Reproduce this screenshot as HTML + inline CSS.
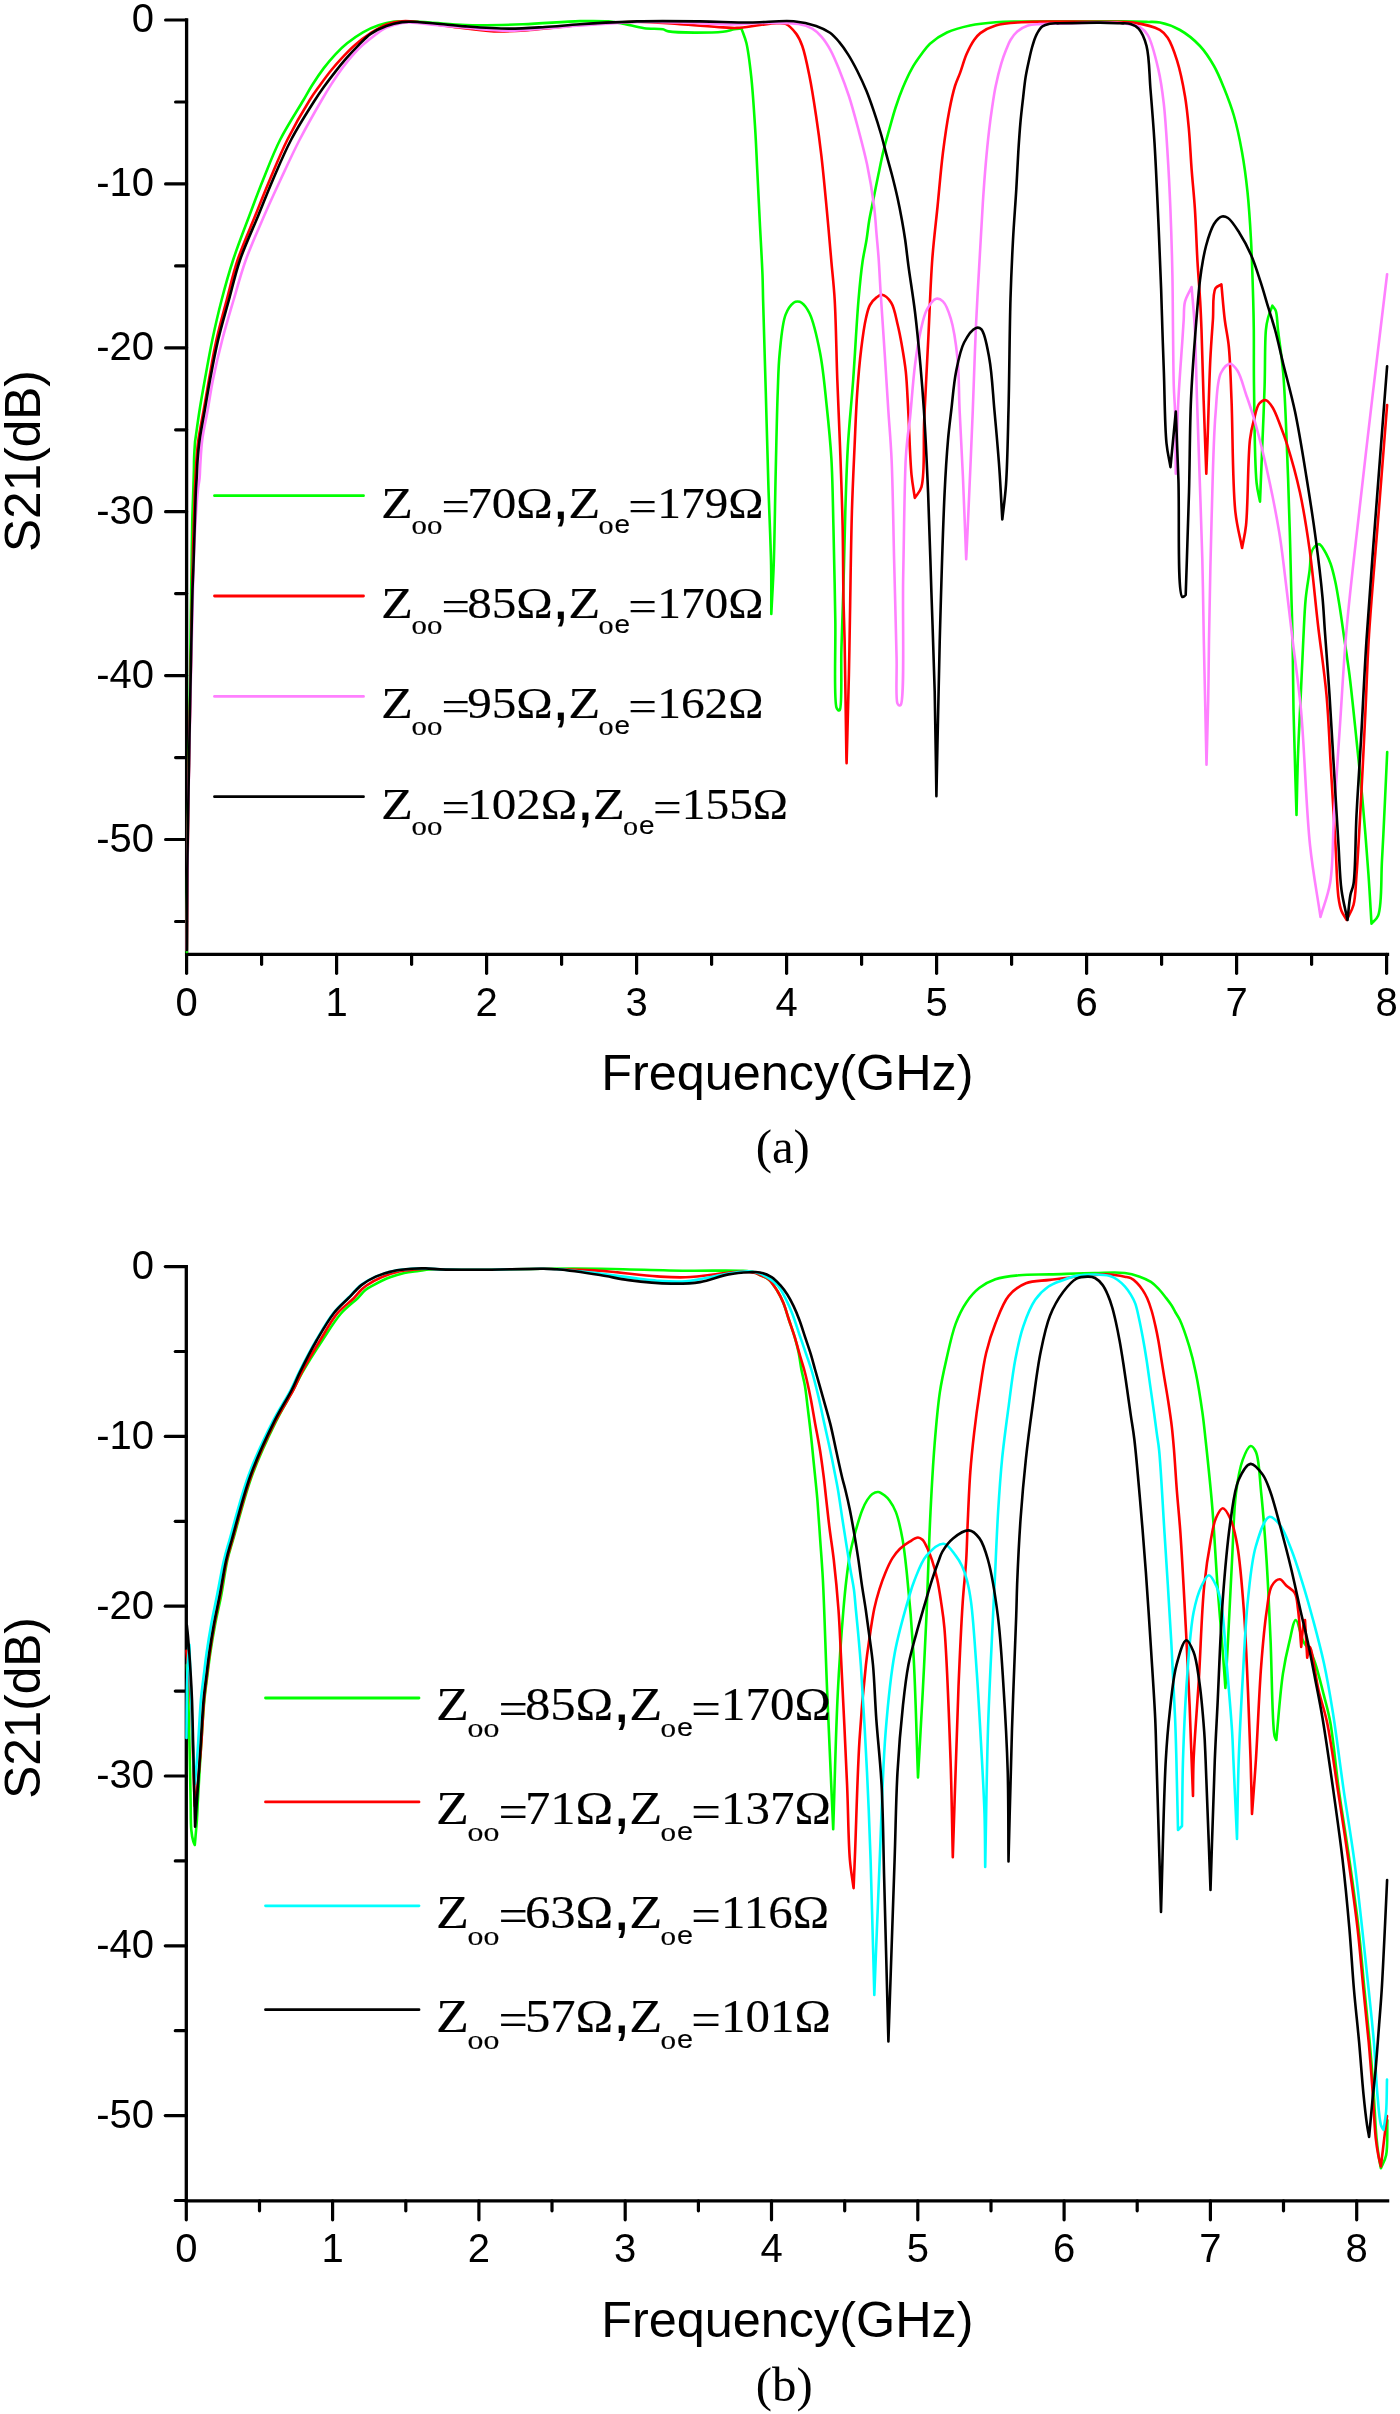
<!DOCTYPE html>
<html><head><meta charset="utf-8"><title>S21 vs Frequency</title>
<style>html,body{margin:0;padding:0;background:#fff;width:1400px;height:2414px;overflow:hidden;}svg{display:block;will-change:transform;}</style></head><body>
<svg xmlns="http://www.w3.org/2000/svg" width="1400" height="2414" viewBox="0 0 1400 2414">
<rect width="1400" height="2414" fill="#fff"/>
<path d="M186.6,20.0 L186.6,954.3 L1387.5,954.3" fill="none" stroke="#000" stroke-width="3.3" stroke-linejoin="miter" stroke-linecap="square"/>
<line x1="165.6" y1="20.0" x2="186.6" y2="20.0" stroke="#000" stroke-width="3.2" stroke-linecap="round"/>
<text x="154.1" y="32.3" text-anchor="end" font-family='"Liberation Sans", sans-serif' font-size="40">0</text>
<line x1="175.6" y1="102.0" x2="186.6" y2="102.0" stroke="#000" stroke-width="3.2" stroke-linecap="round"/>
<line x1="165.6" y1="183.9" x2="186.6" y2="183.9" stroke="#000" stroke-width="3.2" stroke-linecap="round"/>
<text x="154.1" y="196.2" text-anchor="end" font-family='"Liberation Sans", sans-serif' font-size="40">-10</text>
<line x1="175.6" y1="265.9" x2="186.6" y2="265.9" stroke="#000" stroke-width="3.2" stroke-linecap="round"/>
<line x1="165.6" y1="347.8" x2="186.6" y2="347.8" stroke="#000" stroke-width="3.2" stroke-linecap="round"/>
<text x="154.1" y="360.1" text-anchor="end" font-family='"Liberation Sans", sans-serif' font-size="40">-20</text>
<line x1="175.6" y1="429.8" x2="186.6" y2="429.8" stroke="#000" stroke-width="3.2" stroke-linecap="round"/>
<line x1="165.6" y1="511.7" x2="186.6" y2="511.7" stroke="#000" stroke-width="3.2" stroke-linecap="round"/>
<text x="154.1" y="524.0" text-anchor="end" font-family='"Liberation Sans", sans-serif' font-size="40">-30</text>
<line x1="175.6" y1="593.6" x2="186.6" y2="593.6" stroke="#000" stroke-width="3.2" stroke-linecap="round"/>
<line x1="165.6" y1="675.6" x2="186.6" y2="675.6" stroke="#000" stroke-width="3.2" stroke-linecap="round"/>
<text x="154.1" y="687.9" text-anchor="end" font-family='"Liberation Sans", sans-serif' font-size="40">-40</text>
<line x1="175.6" y1="757.6" x2="186.6" y2="757.6" stroke="#000" stroke-width="3.2" stroke-linecap="round"/>
<line x1="165.6" y1="839.5" x2="186.6" y2="839.5" stroke="#000" stroke-width="3.2" stroke-linecap="round"/>
<text x="154.1" y="851.8" text-anchor="end" font-family='"Liberation Sans", sans-serif' font-size="40">-50</text>
<line x1="175.6" y1="921.5" x2="186.6" y2="921.5" stroke="#000" stroke-width="3.2" stroke-linecap="round"/>
<line x1="186.6" y1="954.3" x2="186.6" y2="973.3" stroke="#000" stroke-width="3.2" stroke-linecap="round"/>
<text x="186.6" y="1015.8" text-anchor="middle" font-family='"Liberation Sans", sans-serif' font-size="40">0</text>
<line x1="261.6" y1="954.3" x2="261.6" y2="964.3" stroke="#000" stroke-width="3.2" stroke-linecap="round"/>
<line x1="336.6" y1="954.3" x2="336.6" y2="973.3" stroke="#000" stroke-width="3.2" stroke-linecap="round"/>
<text x="336.6" y="1015.8" text-anchor="middle" font-family='"Liberation Sans", sans-serif' font-size="40">1</text>
<line x1="411.6" y1="954.3" x2="411.6" y2="964.3" stroke="#000" stroke-width="3.2" stroke-linecap="round"/>
<line x1="486.6" y1="954.3" x2="486.6" y2="973.3" stroke="#000" stroke-width="3.2" stroke-linecap="round"/>
<text x="486.6" y="1015.8" text-anchor="middle" font-family='"Liberation Sans", sans-serif' font-size="40">2</text>
<line x1="561.6" y1="954.3" x2="561.6" y2="964.3" stroke="#000" stroke-width="3.2" stroke-linecap="round"/>
<line x1="636.6" y1="954.3" x2="636.6" y2="973.3" stroke="#000" stroke-width="3.2" stroke-linecap="round"/>
<text x="636.6" y="1015.8" text-anchor="middle" font-family='"Liberation Sans", sans-serif' font-size="40">3</text>
<line x1="711.6" y1="954.3" x2="711.6" y2="964.3" stroke="#000" stroke-width="3.2" stroke-linecap="round"/>
<line x1="786.6" y1="954.3" x2="786.6" y2="973.3" stroke="#000" stroke-width="3.2" stroke-linecap="round"/>
<text x="786.6" y="1015.8" text-anchor="middle" font-family='"Liberation Sans", sans-serif' font-size="40">4</text>
<line x1="861.6" y1="954.3" x2="861.6" y2="964.3" stroke="#000" stroke-width="3.2" stroke-linecap="round"/>
<line x1="936.6" y1="954.3" x2="936.6" y2="973.3" stroke="#000" stroke-width="3.2" stroke-linecap="round"/>
<text x="936.6" y="1015.8" text-anchor="middle" font-family='"Liberation Sans", sans-serif' font-size="40">5</text>
<line x1="1011.6" y1="954.3" x2="1011.6" y2="964.3" stroke="#000" stroke-width="3.2" stroke-linecap="round"/>
<line x1="1086.6" y1="954.3" x2="1086.6" y2="973.3" stroke="#000" stroke-width="3.2" stroke-linecap="round"/>
<text x="1086.6" y="1015.8" text-anchor="middle" font-family='"Liberation Sans", sans-serif' font-size="40">6</text>
<line x1="1161.6" y1="954.3" x2="1161.6" y2="964.3" stroke="#000" stroke-width="3.2" stroke-linecap="round"/>
<line x1="1236.6" y1="954.3" x2="1236.6" y2="973.3" stroke="#000" stroke-width="3.2" stroke-linecap="round"/>
<text x="1236.6" y="1015.8" text-anchor="middle" font-family='"Liberation Sans", sans-serif' font-size="40">7</text>
<line x1="1311.6" y1="954.3" x2="1311.6" y2="964.3" stroke="#000" stroke-width="3.2" stroke-linecap="round"/>
<line x1="1386.6" y1="954.3" x2="1386.6" y2="973.3" stroke="#000" stroke-width="3.2" stroke-linecap="round"/>
<text x="1386.6" y="1015.8" text-anchor="middle" font-family='"Liberation Sans", sans-serif' font-size="40">8</text>
<path d="M186.80,952.00 C186.93,928.00 186.96,904.63 187.20,880.00 C187.45,854.04 187.94,824.75 188.30,800.00 C188.61,778.56 188.92,760.00 189.20,740.00 C189.48,720.00 189.73,700.00 190.00,680.00 C190.27,660.00 190.54,639.09 190.80,620.00 C191.04,602.57 191.25,586.67 191.50,570.00 C191.75,553.33 191.94,534.55 192.30,520.00 C192.58,508.73 193.02,498.99 193.30,490.00 C193.53,482.66 193.76,475.82 193.90,470.00 C194.01,465.49 193.94,462.29 194.10,458.00 C194.28,453.05 194.70,447.33 195.00,442.00 C196.53,431.33 197.94,420.48 199.60,410.00 C201.21,399.83 202.87,390.71 204.80,380.00 C207.03,367.62 209.51,353.30 212.30,340.00 C215.11,326.64 218.15,313.29 221.60,300.00 C225.08,286.62 228.64,273.64 233.10,260.00 C237.88,245.36 244.34,229.04 249.60,215.00 C254.25,202.58 258.15,192.01 263.00,180.00 C268.22,167.07 273.39,153.12 280.00,140.00 C286.83,126.44 297.67,109.98 303.50,100.00 C306.98,94.04 308.69,90.63 311.80,85.70 C315.30,80.15 319.53,73.78 323.60,68.40 C327.41,63.36 331.34,58.60 335.40,54.30 C339.19,50.28 342.77,46.81 347.10,43.30 C351.85,39.45 357.50,35.37 362.90,32.30 C368.01,29.40 373.28,26.99 378.60,25.20 C383.75,23.47 389.21,22.23 394.30,21.60 C398.99,21.02 402.90,21.22 408.00,21.30 C414.47,21.41 421.79,21.99 430.00,22.50 C440.47,23.15 452.40,24.62 465.70,25.00 C482.52,25.49 503.85,24.95 522.90,24.30 C541.95,23.65 564.22,21.46 580.00,21.10 C591.16,20.85 600.72,20.76 608.60,21.40 C614.20,21.86 617.67,22.62 622.90,23.60 C629.33,24.80 637.38,27.36 644.30,28.30 C650.68,29.17 658.53,28.40 662.90,29.30 C665.40,29.81 665.66,30.87 668.60,31.40 C677.39,32.99 711.56,32.85 722.90,31.70 C728.15,31.17 730.94,29.89 734.30,29.30 C736.94,28.84 739.03,28.63 741.40,28.30 C743.07,33.20 744.97,37.03 746.40,43.00 C748.51,51.79 749.84,63.89 751.20,76.30 C752.91,91.90 754.17,112.90 755.20,129.30 C756.09,143.48 756.49,154.81 757.20,169.00 C758.01,185.39 758.92,204.33 759.80,222.00 C760.68,239.67 761.96,260.61 762.50,275.00 C762.87,284.88 762.81,289.03 763.10,300.00 C763.66,321.14 764.92,361.87 765.80,392.80 C766.68,423.71 767.48,455.79 768.40,485.50 C769.25,513.02 770.66,541.69 771.10,565.00 C771.45,583.30 771.23,597.67 771.30,614.00 C772.10,597.67 773.03,583.92 773.70,565.00 C774.62,538.99 775.01,502.01 775.70,472.30 C776.34,444.78 776.87,414.76 777.70,392.80 C778.29,377.26 778.37,366.11 779.70,353.00 C781.02,340.05 782.13,323.50 785.60,314.60 C787.71,309.19 791.06,304.57 793.60,302.70 C794.97,301.69 796.27,301.50 797.60,301.50 C798.93,301.50 800.21,301.73 801.60,302.70 C804.07,304.43 807.09,308.33 809.50,313.30 C813.74,322.06 817.32,338.71 820.10,353.00 C823.27,369.29 824.82,388.32 826.70,406.00 C828.58,423.65 830.29,440.33 831.40,459.00 C832.64,479.85 832.80,501.24 833.40,525.30 C834.12,554.04 834.78,588.95 835.30,619.90 C835.80,649.71 833.62,698.93 836.50,707.70 C837.07,709.44 837.83,709.57 838.50,710.50 C838.93,710.33 839.41,710.55 839.80,710.00 C842.35,706.40 840.84,668.83 841.40,649.70 C841.91,632.33 842.54,615.12 843.00,600.00 C843.39,587.31 843.66,577.87 844.00,565.00 C844.42,549.16 844.71,530.65 845.30,512.00 C845.96,491.16 846.59,467.86 847.90,445.80 C849.22,423.69 851.51,402.61 853.20,379.50 C855.05,354.21 856.64,321.65 858.50,300.00 C859.79,285.01 860.93,272.92 862.50,262.00 C863.70,253.65 865.36,247.12 866.50,240.00 C867.57,233.32 868.13,226.87 869.20,220.50 C870.24,214.31 871.47,208.98 872.80,202.30 C874.43,194.12 876.44,183.95 878.30,175.00 C880.11,166.32 881.85,157.38 883.80,149.40 C885.54,142.30 887.38,136.21 889.30,129.40 C891.31,122.26 893.29,114.60 895.60,107.50 C897.84,100.64 900.16,94.04 902.90,87.50 C905.63,80.97 908.73,74.05 912.00,68.30 C914.88,63.23 918.07,58.84 921.20,54.60 C924.08,50.69 926.27,47.09 930.00,43.70 C934.48,39.62 940.59,35.48 946.90,32.50 C953.79,29.24 962.02,27.11 970.00,25.40 C978.26,23.63 987.12,22.83 995.70,22.20 C1004.25,21.57 1011.09,21.75 1021.40,21.60 C1036.96,21.38 1062.33,21.32 1080.00,21.30 C1094.60,21.28 1108.03,21.27 1120.00,21.40 C1129.74,21.50 1139.14,21.67 1146.50,21.90 C1151.75,22.07 1155.14,21.51 1160.00,22.50 C1166.10,23.75 1173.61,26.37 1180.00,30.00 C1187.00,33.98 1194.29,39.91 1200.00,46.00 C1205.58,51.95 1209.99,58.98 1214.00,66.00 C1217.99,72.98 1220.82,80.15 1224.00,88.00 C1227.52,96.70 1231.11,105.98 1234.00,116.00 C1237.22,127.15 1239.78,139.64 1242.00,152.00 C1244.32,164.94 1246.03,178.03 1247.50,192.00 C1249.10,207.25 1250.07,223.10 1251.00,240.00 C1252.03,258.88 1252.73,283.43 1253.20,300.00 C1253.53,311.71 1253.66,318.44 1253.80,330.00 C1253.99,345.84 1253.68,365.01 1254.00,386.30 C1254.42,414.20 1254.56,463.39 1256.60,483.00 C1257.50,491.67 1258.87,495.40 1260.00,501.60 C1260.67,485.27 1261.30,470.17 1262.00,452.60 C1262.82,432.17 1263.94,407.50 1264.60,386.30 C1265.21,366.77 1264.74,341.83 1265.90,330.00 C1266.44,324.50 1266.95,321.99 1268.00,318.00 C1269.09,313.85 1270.93,309.73 1272.40,305.60 C1273.53,307.37 1274.93,308.45 1275.80,310.90 C1277.33,315.18 1277.10,322.36 1278.00,330.00 C1279.35,341.47 1281.80,356.45 1283.20,373.00 C1285.11,395.45 1286.00,426.07 1287.10,452.60 C1288.20,479.10 1289.05,506.64 1289.80,532.10 C1290.49,555.62 1290.98,580.34 1291.50,600.00 C1291.90,615.09 1292.29,624.81 1292.60,640.00 C1293.01,660.09 1292.97,684.31 1293.50,710.00 C1294.15,741.47 1295.50,780.00 1296.50,815.00 C1297.00,795.00 1297.27,775.40 1298.00,755.00 C1298.76,733.76 1300.07,710.25 1301.00,690.00 C1301.82,672.24 1302.47,655.88 1303.30,640.00 C1304.05,625.55 1304.47,611.15 1305.70,598.60 C1306.73,588.05 1308.68,578.05 1309.70,569.60 C1310.49,563.07 1310.14,556.34 1311.50,552.20 C1312.34,549.63 1313.49,547.78 1314.90,546.40 C1316.08,545.25 1317.85,544.03 1319.00,544.10 C1319.90,544.16 1320.49,544.92 1321.30,545.80 C1322.73,547.36 1324.53,550.61 1326.00,553.40 C1327.66,556.54 1329.21,559.83 1330.60,563.80 C1332.35,568.80 1333.82,574.95 1335.20,581.20 C1336.77,588.35 1337.92,595.83 1339.30,604.40 C1341.01,614.99 1342.79,628.18 1344.50,640.00 C1346.19,651.71 1347.81,661.53 1349.50,675.00 C1351.79,693.32 1354.29,718.76 1356.50,740.00 C1358.62,760.40 1360.60,778.88 1362.50,800.00 C1364.62,823.60 1366.92,852.68 1368.50,875.00 C1369.77,892.97 1370.50,907.47 1371.50,923.70 C1373.73,920.97 1376.48,919.85 1378.20,915.50 C1382.15,905.52 1380.88,878.87 1382.00,860.00 C1383.16,840.39 1384.10,818.89 1385.00,800.00 C1385.81,783.11 1386.47,768.00 1387.20,752.00" fill="none" stroke="#00ff00" stroke-width="2.6" stroke-linejoin="round" stroke-linecap="round"/>
<path d="M186.80,950.00 C187.03,923.33 187.20,897.45 187.50,870.00 C187.82,840.88 188.27,806.97 188.70,780.00 C189.05,757.98 189.42,740.00 189.80,720.00 C190.18,700.00 190.63,680.00 191.00,660.00 C191.37,640.00 191.65,619.09 192.00,600.00 C192.32,582.57 192.59,565.74 193.00,550.00 C193.37,535.92 193.95,521.05 194.30,510.00 C194.54,502.19 194.63,496.67 194.90,490.00 C195.17,483.33 195.58,475.82 195.90,470.00 C196.14,465.49 196.25,462.40 196.60,458.00 C197.03,452.60 197.47,446.74 198.40,440.00 C199.61,431.25 201.95,420.00 203.70,410.00 C205.45,400.00 206.97,390.71 208.90,380.00 C211.13,367.62 213.45,353.28 216.40,340.00 C219.37,326.62 223.17,313.32 226.70,300.00 C230.24,286.65 233.06,273.60 237.60,260.00 C242.51,245.31 249.86,229.05 255.50,215.00 C260.48,202.59 264.63,192.02 269.70,180.00 C275.16,167.07 280.68,153.17 287.25,140.00 C293.99,126.50 303.59,109.88 309.75,100.00 C313.54,93.93 316.12,90.54 319.60,85.70 C323.31,80.55 327.37,74.95 331.40,70.00 C335.24,65.28 339.19,60.85 343.20,56.60 C347.07,52.50 350.64,48.66 355.00,44.90 C359.73,40.81 365.34,36.57 370.70,33.10 C375.82,29.78 381.01,26.39 386.40,24.40 C391.49,22.52 397.74,21.64 402.10,21.20 C405.16,20.89 406.36,20.96 410.00,21.20 C418.22,21.74 436.34,24.83 450.00,26.50 C464.31,28.24 480.05,30.90 494.00,31.40 C506.58,31.85 517.03,30.90 530.00,30.00 C545.32,28.94 562.77,26.36 580.00,25.00 C598.36,23.55 619.34,21.68 637.00,21.70 C652.34,21.72 665.68,23.35 680.00,24.30 C694.31,25.25 712.47,26.84 722.90,27.40 C728.87,27.72 731.74,28.14 737.00,27.90 C743.74,27.60 752.98,25.81 760.00,25.00 C765.92,24.32 771.71,23.39 776.40,23.30 C779.90,23.23 782.64,22.62 785.60,23.90 C789.33,25.52 793.50,30.14 796.30,33.90 C798.96,37.48 800.38,40.79 802.20,45.80 C804.99,53.50 807.30,65.42 809.50,76.30 C812.00,88.62 814.12,102.74 816.10,116.00 C818.08,129.24 819.74,141.57 821.40,155.80 C823.31,172.19 825.03,191.13 826.70,208.80 C828.37,226.46 829.98,245.58 831.40,261.80 C832.61,275.57 833.80,284.95 834.70,300.00 C835.99,321.68 836.37,354.20 837.30,379.50 C838.15,402.60 839.15,422.70 840.00,445.80 C840.93,471.10 842.02,499.21 842.60,525.30 C843.17,550.58 843.08,578.96 843.50,600.00 C843.80,615.40 844.24,623.16 844.60,640.00 C845.22,668.85 846.05,743.17 846.40,757.40 C846.48,760.56 846.53,761.27 846.60,763.20 C847.37,733.67 848.32,700.58 848.90,674.60 C849.35,654.21 849.51,641.27 849.90,620.00 C850.45,590.08 850.96,543.61 851.90,512.00 C852.63,487.24 853.66,466.64 854.60,445.80 C855.44,427.15 856.02,409.61 857.20,392.80 C858.27,377.49 859.56,362.32 861.20,349.00 C862.58,337.75 864.14,326.07 866.00,318.00 C867.22,312.69 868.01,308.59 870.00,305.00 C871.71,301.91 874.34,299.14 876.60,297.40 C878.33,296.07 879.97,294.56 881.90,294.80 C884.67,295.15 888.73,298.90 891.20,302.70 C894.62,307.98 895.99,317.98 897.80,325.30 C899.47,332.08 900.55,338.00 901.80,345.10 C903.24,353.27 904.77,361.93 905.80,371.60 C907.03,383.19 907.38,395.54 908.20,410.00 C909.26,428.75 909.95,458.47 911.50,474.60 C912.44,484.33 913.70,490.13 914.80,497.90 C917.00,494.30 919.74,492.55 921.40,487.10 C925.22,474.55 923.12,443.45 924.20,420.00 C925.39,394.15 926.94,365.50 928.30,338.50 C929.64,311.84 930.51,282.80 932.30,259.00 C933.76,239.53 935.83,223.67 937.60,206.00 C939.37,188.33 940.80,169.72 942.90,153.00 C944.80,137.89 947.05,122.22 949.40,110.00 C951.17,100.80 952.93,92.71 955.00,86.00 C956.55,80.97 958.26,77.83 960.00,73.10 C962.10,67.39 964.08,59.87 966.60,54.10 C968.85,48.96 971.48,43.75 974.10,40.00 C976.10,37.15 977.51,35.22 980.30,33.10 C984.10,30.21 989.74,27.20 995.70,25.40 C1003.02,23.19 1011.95,22.86 1021.40,22.20 C1032.94,21.39 1047.02,21.67 1060.00,21.60 C1073.21,21.53 1087.28,21.62 1100.00,21.80 C1111.61,21.97 1122.92,21.07 1133.30,22.60 C1142.73,23.99 1153.84,26.43 1159.80,29.90 C1163.60,32.11 1165.28,34.17 1167.70,37.80 C1171.27,43.16 1174.31,51.87 1177.00,60.40 C1180.29,70.84 1183.00,84.45 1185.00,96.20 C1186.91,107.40 1187.83,117.74 1188.90,129.30 C1190.07,141.94 1190.60,155.85 1191.60,169.10 C1192.60,182.35 1193.96,194.60 1194.90,208.80 C1195.98,225.21 1196.54,245.49 1197.50,261.90 C1198.33,276.10 1199.51,289.47 1200.20,301.60 C1200.78,311.85 1201.06,318.45 1201.50,330.00 C1202.19,348.07 1202.82,375.95 1203.60,399.50 C1204.41,423.85 1205.40,449.03 1206.30,473.80 C1206.73,462.30 1207.10,453.17 1207.60,439.30 C1208.35,418.25 1209.21,381.75 1210.30,359.80 C1211.07,344.25 1212.00,332.50 1212.90,320.00 C1213.70,308.86 1212.29,293.69 1215.40,288.40 C1216.88,285.87 1219.40,285.73 1221.40,284.40 C1222.53,296.27 1223.45,309.02 1224.80,320.00 C1225.97,329.50 1227.75,336.12 1228.80,346.50 C1230.27,361.11 1230.60,378.54 1231.50,399.50 C1232.81,430.06 1232.42,485.20 1235.40,512.20 C1237.09,527.55 1239.87,536.07 1242.10,548.00 C1243.40,540.50 1244.91,535.47 1246.00,525.50 C1248.12,506.11 1247.71,457.89 1250.00,439.30 C1251.11,430.28 1252.35,425.61 1254.00,419.40 C1255.50,413.75 1256.60,406.61 1259.30,403.50 C1261.09,401.44 1263.83,399.82 1265.90,400.20 C1268.30,400.64 1270.53,404.29 1272.60,407.50 C1275.56,412.08 1278.09,419.85 1280.50,426.00 C1282.84,431.98 1284.56,436.42 1286.90,443.90 C1290.70,456.04 1296.22,475.44 1299.90,492.30 C1303.84,510.34 1306.65,528.60 1309.50,548.90 C1312.80,572.35 1315.11,600.17 1318.00,625.00 C1320.78,648.83 1324.35,671.23 1326.50,695.00 C1328.72,719.54 1329.50,745.00 1331.00,770.00 C1332.50,795.00 1334.17,822.22 1335.50,845.00 C1336.62,864.06 1336.87,885.77 1338.50,897.50 C1339.33,903.52 1339.96,907.06 1341.50,911.00 C1342.83,914.42 1344.97,917.00 1346.70,920.00 C1348.97,915.00 1351.88,911.02 1353.50,905.00 C1355.69,896.86 1355.52,887.26 1356.50,875.00 C1358.05,855.64 1359.56,826.14 1361.00,800.00 C1362.57,771.37 1364.12,738.63 1365.50,710.00 C1366.76,683.86 1367.23,663.23 1369.00,635.00 C1371.31,598.30 1375.85,548.54 1379.00,508.50 C1381.85,472.30 1384.40,439.57 1387.10,405.10" fill="none" stroke="#ff0000" stroke-width="2.6" stroke-linejoin="round" stroke-linecap="round"/>
<path d="M186.80,950.00 C187.03,923.33 187.18,897.45 187.50,870.00 C187.84,840.88 188.34,806.97 188.80,780.00 C189.18,757.98 189.58,740.00 190.00,720.00 C190.42,700.00 190.88,677.98 191.30,660.00 C191.64,645.32 191.96,634.08 192.30,620.00 C192.69,604.26 192.95,586.66 193.50,570.00 C194.05,553.33 194.74,534.54 195.60,520.00 C196.27,508.72 197.06,497.74 197.90,490.00 C198.44,485.09 199.20,482.09 199.60,478.00 C200.01,473.76 199.97,470.03 200.30,465.00 C200.75,458.01 201.08,448.68 202.20,440.00 C203.44,430.42 205.92,420.00 207.70,410.00 C209.48,400.00 210.73,390.69 212.90,380.00 C215.42,367.59 218.76,353.29 222.20,340.00 C225.66,326.62 229.67,313.32 233.60,300.00 C237.54,286.65 240.91,273.60 245.80,260.00 C251.08,245.32 258.41,229.01 264.50,215.00 C269.91,202.55 274.80,192.03 280.40,180.00 C286.42,167.08 292.67,153.23 299.50,140.00 C306.44,126.56 315.78,110.27 321.75,100.00 C325.55,93.45 327.94,89.46 331.40,84.10 C335.06,78.43 339.14,72.27 343.20,66.90 C347.02,61.85 351.37,56.66 355.00,52.70 C357.82,49.63 359.94,47.55 362.90,44.90 C366.35,41.81 370.62,38.32 374.60,35.40 C378.46,32.57 382.02,29.65 386.40,27.60 C391.12,25.39 397.72,23.68 402.10,22.90 C405.14,22.36 406.52,22.33 410.00,22.40 C416.79,22.53 430.38,24.57 440.00,25.50 C448.89,26.36 456.04,27.04 465.70,27.80 C478.17,28.78 494.43,30.68 508.60,30.70 C522.52,30.72 537.31,28.94 550.00,28.00 C560.81,27.20 568.28,26.33 580.00,25.50 C596.56,24.33 622.01,22.41 640.00,22.00 C654.67,21.66 666.44,22.13 680.00,22.50 C694.05,22.88 712.48,24.08 722.90,24.30 C728.87,24.43 731.73,24.45 737.00,24.30 C743.74,24.11 751.34,23.13 760.00,23.00 C771.21,22.83 789.08,22.32 798.60,24.00 C804.42,25.03 808.39,26.35 812.30,28.60 C815.88,30.66 818.55,33.36 821.40,36.60 C824.72,40.38 827.75,45.13 830.60,50.30 C833.93,56.34 836.77,63.64 839.70,70.90 C842.89,78.81 846.00,87.07 848.90,96.00 C852.14,105.96 855.06,116.95 858.00,128.00 C861.13,139.77 864.48,151.99 867.10,164.60 C869.86,177.85 872.39,193.13 874.00,205.70 C875.35,216.26 875.79,225.82 876.60,235.00 C877.31,243.13 877.99,249.58 878.60,258.00 C879.35,268.25 879.79,279.15 880.60,292.10 C881.68,309.23 883.31,332.03 884.60,351.80 C885.87,371.32 887.09,391.37 888.30,410.00 C889.42,427.22 890.71,440.28 891.60,459.70 C892.86,487.16 893.27,526.04 894.10,559.20 C894.93,592.34 896.03,631.98 896.60,658.60 C896.98,676.47 895.49,698.17 897.40,703.40 C897.87,704.68 898.53,704.80 899.10,705.50 C899.63,705.33 900.21,705.65 900.70,705.00 C904.99,699.28 902.34,617.72 903.20,575.80 C904.01,536.07 904.48,483.05 905.70,459.70 C906.23,449.59 906.77,444.89 907.50,438.00 C908.16,431.71 908.95,427.64 909.80,420.00 C911.28,406.67 912.94,380.99 915.00,365.00 C916.60,352.54 918.15,341.81 920.40,331.90 C922.28,323.61 923.79,315.24 927.00,309.40 C929.49,304.87 933.20,299.55 936.30,298.80 C938.50,298.27 940.92,299.53 942.90,301.40 C946.13,304.46 948.62,311.50 950.80,318.60 C953.99,328.96 956.02,344.22 957.50,358.40 C959.17,374.44 958.77,391.73 959.60,410.00 C960.54,430.72 961.85,452.96 962.90,476.30 C964.07,502.39 965.10,531.57 966.20,559.20 C966.73,548.13 967.14,540.42 967.80,526.00 C969.03,499.05 971.36,445.63 972.80,410.00 C974.03,379.55 974.69,353.58 976.00,325.30 C977.32,296.91 979.36,263.55 980.70,240.00 C981.65,223.36 982.31,210.70 983.20,197.40 C983.99,185.67 984.73,175.34 985.70,164.30 C986.67,153.24 987.81,141.35 989.00,131.10 C990.03,122.22 991.13,114.10 992.30,106.30 C993.35,99.29 994.18,93.26 995.60,86.40 C997.15,78.93 999.37,69.93 1001.40,63.20 C1003.01,57.87 1004.73,53.26 1006.40,49.10 C1007.76,45.70 1008.74,42.88 1010.50,40.00 C1012.34,37.00 1014.55,33.85 1017.30,31.50 C1020.13,29.09 1023.66,27.04 1027.30,25.80 C1031.10,24.51 1035.05,24.46 1039.70,24.10 C1045.63,23.64 1052.10,23.90 1060.00,23.70 C1071.09,23.42 1088.23,22.44 1100.00,22.50 C1109.31,22.55 1117.78,22.47 1125.00,23.50 C1130.65,24.31 1135.95,24.95 1139.90,27.20 C1143.28,29.12 1145.40,31.19 1147.80,35.20 C1152.09,42.37 1155.73,58.14 1158.40,69.60 C1160.98,80.67 1162.25,90.41 1163.70,102.80 C1165.53,118.38 1166.58,138.13 1167.70,155.80 C1168.82,173.46 1169.64,190.14 1170.40,208.80 C1171.25,229.66 1171.97,254.04 1172.40,275.10 C1172.79,294.26 1172.77,311.58 1173.00,330.00 C1173.23,348.65 1173.32,371.03 1173.80,386.30 C1174.13,396.78 1174.78,402.15 1175.10,412.80 C1175.59,428.95 1175.57,453.47 1175.80,473.80 C1176.67,449.03 1177.21,422.89 1178.40,399.50 C1179.47,378.53 1181.44,354.45 1182.40,339.90 C1182.96,331.49 1183.26,326.50 1183.70,320.00 C1184.13,313.75 1183.57,307.26 1185.00,301.60 C1186.33,296.32 1189.40,291.87 1191.60,287.00 C1192.60,299.67 1193.78,310.21 1194.60,325.00 C1195.75,345.68 1196.16,374.26 1197.00,399.50 C1197.86,425.57 1198.82,452.49 1199.70,479.00 C1200.58,505.52 1201.62,531.92 1202.30,558.60 C1202.99,585.58 1203.31,615.52 1203.80,640.00 C1204.20,660.12 1204.58,675.58 1205.00,695.00 C1205.47,716.86 1206.00,741.47 1206.50,764.70 C1207.07,743.13 1207.78,721.16 1208.20,700.00 C1208.60,679.62 1208.59,663.48 1209.00,640.00 C1209.58,606.63 1210.44,557.84 1211.60,518.80 C1212.68,482.28 1213.31,439.61 1215.60,412.80 C1217.01,396.31 1216.84,381.28 1220.90,373.00 C1223.22,368.27 1227.18,363.74 1230.10,363.70 C1232.68,363.67 1235.29,367.40 1237.50,370.80 C1240.95,376.10 1243.24,386.23 1246.00,394.20 C1248.85,402.45 1251.47,409.75 1254.30,419.50 C1258.09,432.56 1262.19,448.93 1266.00,465.80 C1270.53,485.87 1276.13,513.79 1279.20,532.10 C1281.35,544.93 1282.01,551.80 1283.70,565.00 C1286.24,584.91 1289.67,615.43 1292.60,640.00 C1295.43,663.74 1298.47,682.83 1301.00,710.00 C1304.51,747.64 1305.98,807.08 1310.00,845.00 C1312.95,872.81 1317.00,893.00 1320.50,917.00 C1323.73,905.50 1327.94,896.06 1330.20,882.50 C1333.30,863.88 1332.52,839.11 1334.00,815.00 C1335.71,787.15 1337.95,755.40 1340.00,725.00 C1342.11,693.76 1343.54,663.58 1346.50,630.00 C1349.85,591.96 1355.17,548.27 1359.60,508.50 C1363.88,470.12 1368.10,433.75 1372.60,395.40 C1377.26,355.69 1382.27,314.60 1387.10,274.20" fill="none" stroke="#ff80ff" stroke-width="2.6" stroke-linejoin="round" stroke-linecap="round"/>
<path d="M186.80,950.00 C186.97,923.33 187.00,897.45 187.30,870.00 C187.62,840.88 188.24,806.97 188.70,780.00 C189.07,757.98 189.42,740.00 189.80,720.00 C190.18,700.00 190.67,676.57 191.00,660.00 C191.23,648.28 191.37,640.72 191.60,630.00 C191.86,617.62 192.15,601.04 192.50,590.00 C192.74,582.19 193.01,578.17 193.30,570.00 C193.76,557.09 194.42,534.55 194.90,520.00 C195.27,508.73 195.51,497.75 195.90,490.00 C196.15,485.10 196.44,482.41 196.70,478.00 C197.01,472.61 197.14,466.15 197.60,460.00 C198.09,453.50 198.60,447.32 199.60,440.00 C200.83,430.99 203.07,420.00 204.80,410.00 C206.53,400.00 207.99,390.70 210.00,380.00 C212.33,367.61 214.97,353.28 218.10,340.00 C221.26,326.62 225.25,313.33 228.90,300.00 C232.55,286.66 235.34,273.58 240.00,260.00 C245.04,245.29 252.74,229.06 258.50,215.00 C263.58,202.60 267.62,192.00 272.80,180.00 C278.39,167.06 284.10,153.14 291.00,140.00 C298.11,126.46 308.91,109.55 315.00,100.00 C318.49,94.52 320.45,91.72 323.60,87.30 C327.17,82.30 331.42,76.66 335.40,71.60 C339.25,66.70 343.11,61.92 347.10,57.40 C350.95,53.03 354.90,48.87 358.90,44.90 C362.77,41.05 366.24,37.01 370.70,33.90 C375.36,30.66 381.05,27.98 386.40,26.00 C391.53,24.10 397.73,22.75 402.10,22.10 C405.16,21.65 406.63,21.66 410.00,21.70 C416.00,21.76 426.24,22.77 435.00,23.50 C444.71,24.31 454.60,25.59 465.70,26.40 C478.80,27.35 494.89,28.55 508.60,28.60 C521.23,28.65 532.99,27.73 545.00,27.00 C556.79,26.29 566.91,25.14 580.00,24.30 C596.69,23.23 617.52,21.90 637.00,21.40 C657.47,20.88 680.21,21.18 700.00,21.40 C717.63,21.59 733.90,22.54 750.00,22.50 C765.03,22.46 781.50,20.24 793.60,21.30 C802.38,22.07 809.62,23.67 816.10,25.90 C821.42,27.73 826.05,29.96 830.00,32.80 C833.60,35.39 836.20,38.48 839.10,41.90 C842.30,45.67 845.29,50.01 848.20,54.60 C851.39,59.63 854.37,65.20 857.30,71.00 C860.48,77.30 863.73,84.34 866.50,91.10 C869.22,97.75 871.45,104.26 873.80,111.20 C876.29,118.54 878.84,126.54 881.00,134.00 C883.05,141.09 884.65,148.01 886.50,154.90 C888.32,161.67 890.22,168.07 892.00,175.00 C893.89,182.35 895.83,190.19 897.50,197.80 C899.16,205.36 900.68,213.21 902.00,220.50 C903.22,227.24 904.20,233.05 905.20,240.00 C906.35,247.94 907.09,255.81 908.40,265.60 C910.16,278.79 913.05,296.00 915.00,312.00 C917.08,329.06 918.88,348.05 920.40,365.00 C921.80,380.60 922.79,392.72 923.90,410.00 C925.40,433.44 926.89,464.01 928.10,492.90 C929.43,524.53 930.30,559.16 931.40,592.30 C932.50,625.46 933.87,658.23 934.70,691.80 C935.55,726.18 935.83,761.40 936.40,796.20 C937.50,744.83 938.32,693.05 939.70,642.10 C941.06,591.96 942.80,530.01 944.60,492.90 C945.67,470.78 946.68,455.14 948.00,440.00 C948.99,428.58 950.05,420.61 951.30,410.00 C952.71,397.98 953.75,383.44 956.10,371.60 C958.18,361.15 960.12,350.22 964.10,342.50 C967.25,336.40 972.48,329.08 976.00,327.90 C977.90,327.27 979.72,327.66 981.30,329.20 C985.02,332.82 987.23,347.19 989.30,358.40 C992.01,373.07 992.78,392.29 994.40,410.00 C996.12,428.76 997.96,449.24 999.30,468.00 C1000.56,485.64 1001.30,502.27 1002.30,519.40 C1003.53,507.80 1005.04,498.41 1006.00,484.60 C1007.41,464.44 1007.80,437.34 1008.50,410.00 C1009.36,376.62 1009.56,330.01 1010.50,298.80 C1011.19,276.10 1011.99,258.89 1013.00,240.00 C1013.94,222.42 1015.37,204.73 1016.30,189.10 C1017.09,175.76 1017.57,163.62 1018.30,152.00 C1018.95,141.68 1019.56,132.15 1020.40,122.80 C1021.18,114.14 1022.19,105.74 1023.10,97.80 C1023.93,90.57 1024.56,83.59 1025.60,77.10 C1026.53,71.27 1027.74,65.87 1028.90,60.60 C1029.98,55.70 1030.98,50.94 1032.30,46.50 C1033.51,42.41 1034.63,38.34 1036.40,34.90 C1038.00,31.78 1039.81,28.48 1042.20,26.60 C1044.33,24.93 1046.95,24.27 1049.70,23.70 C1052.81,23.06 1055.44,23.43 1060.00,23.30 C1068.98,23.05 1088.96,22.50 1100.00,22.60 C1107.81,22.67 1114.38,23.04 1120.00,23.30 C1124.09,23.49 1127.42,22.94 1130.60,23.90 C1133.57,24.80 1136.27,26.03 1138.60,28.60 C1141.92,32.28 1144.56,38.55 1146.50,45.80 C1149.45,56.84 1149.23,74.22 1150.50,89.50 C1151.90,106.33 1153.29,123.11 1154.50,142.60 C1155.98,166.43 1157.26,196.80 1158.40,222.10 C1159.44,245.20 1160.40,268.86 1161.10,288.40 C1161.66,303.87 1161.94,316.02 1162.40,330.00 C1162.87,344.22 1163.32,356.91 1163.90,373.00 C1164.64,393.57 1164.74,426.10 1166.50,443.30 C1167.53,453.37 1169.17,459.17 1170.50,467.10 L1175.80,411.50 C1176.67,434.03 1177.47,453.45 1178.40,479.10 C1179.63,512.97 1177.05,594.10 1182.40,597.00 C1183.37,597.52 1184.60,595.67 1185.70,595.00 C1186.80,560.77 1188.10,525.67 1189.00,492.30 C1189.85,460.59 1189.74,428.19 1191.00,399.50 C1192.09,374.65 1193.96,351.26 1195.60,330.00 C1196.99,311.96 1198.47,292.90 1200.00,280.00 C1200.97,271.81 1201.90,266.06 1203.00,260.00 C1203.93,254.90 1204.81,250.55 1206.00,246.00 C1207.16,241.56 1208.54,236.90 1210.00,233.00 C1211.24,229.68 1212.49,226.48 1214.00,224.00 C1215.22,222.00 1216.55,220.29 1218.00,219.00 C1219.25,217.89 1220.47,216.74 1222.00,216.50 C1223.75,216.22 1225.94,216.65 1228.00,218.00 C1231.57,220.34 1235.71,227.11 1239.30,232.70 C1243.51,239.25 1247.73,247.26 1251.20,255.20 C1254.85,263.54 1257.61,272.83 1260.50,281.70 C1263.37,290.50 1265.96,299.80 1268.50,308.20 C1270.80,315.82 1272.91,321.91 1275.10,330.00 C1277.81,339.98 1280.23,351.49 1283.20,363.70 C1286.75,378.27 1291.38,394.37 1295.00,411.60 C1299.18,431.46 1302.80,454.65 1306.30,476.20 C1309.80,497.71 1313.24,519.96 1316.00,540.80 C1318.58,560.24 1320.99,581.01 1322.50,597.30 C1323.65,609.67 1323.89,617.25 1324.80,630.00 C1326.08,647.98 1328.02,672.55 1329.50,695.00 C1331.09,719.10 1332.50,745.00 1334.00,770.00 C1335.50,795.00 1337.12,823.18 1338.50,845.00 C1339.57,861.91 1339.72,876.57 1341.50,890.00 C1342.97,901.06 1345.50,910.00 1347.50,920.00 C1348.50,911.50 1349.18,901.10 1350.50,894.50 C1351.36,890.19 1352.67,889.11 1353.50,884.00 C1355.58,871.16 1355.29,838.47 1356.50,815.00 C1357.77,790.52 1359.46,766.80 1361.00,740.00 C1362.78,709.06 1364.15,676.56 1366.50,640.00 C1369.36,595.54 1373.84,539.58 1377.40,492.30 C1380.69,448.63 1383.87,408.30 1387.10,366.30" fill="none" stroke="#000000" stroke-width="2.6" stroke-linejoin="round" stroke-linecap="round"/>
<line x1="214.5" y1="495.7" x2="363.5" y2="495.7" stroke="#00ff00" stroke-width="2.8" stroke-linecap="round"/>
<text transform="translate(381.00,517.60) scale(1.1629,1)" font-family='"Liberation Serif", serif' font-size="45.00" stroke="#000" stroke-width="0.15">Z</text>
<text transform="translate(411.53,533.90) scale(1.1511,1)" font-family='"Liberation Serif", serif' font-size="26.80" stroke="#000" stroke-width="0.15">oo</text>
<text transform="translate(441.48,520.60) scale(1.1223,1)" font-family='"Liberation Serif", serif' font-size="45.00" stroke="#000" stroke-width="0.15">=</text>
<text transform="translate(467.16,517.60) scale(1.0910,1)" font-family='"Liberation Serif", serif' font-size="45.00" stroke="#000" stroke-width="0.15">70&#937;</text>
<text transform="translate(555.05,518.90) scale(0.8737,1)" font-family='"Liberation Sans", sans-serif' font-size="48.00" font-weight="bold" stroke="#000" stroke-width="0.15">,</text>
<text transform="translate(568.29,517.60) scale(1.1673,1)" font-family='"Liberation Serif", serif' font-size="45.00" stroke="#000" stroke-width="0.15">Z</text>
<text transform="translate(598.55,533.90) scale(1.1269,1)" font-family='"Liberation Serif", serif' font-size="26.80" stroke="#000" stroke-width="0.15">o</text>
<text transform="translate(614.41,533.10) scale(1.1035,1)" font-family='"Liberation Sans", sans-serif' font-size="25.30" stroke="#000" stroke-width="0.15">e</text>
<text transform="translate(628.36,520.60) scale(1.1318,1)" font-family='"Liberation Serif", serif' font-size="45.00" stroke="#000" stroke-width="0.15">=</text>
<text transform="translate(657.23,517.60) scale(1.0533,1)" font-family='"Liberation Serif", serif' font-size="45.00" stroke="#000" stroke-width="0.15">179&#937;</text>
<line x1="214.5" y1="596.0" x2="363.5" y2="596.0" stroke="#ff0000" stroke-width="2.8" stroke-linecap="round"/>
<text transform="translate(381.00,617.90) scale(1.1629,1)" font-family='"Liberation Serif", serif' font-size="45.00" stroke="#000" stroke-width="0.15">Z</text>
<text transform="translate(411.53,634.20) scale(1.1511,1)" font-family='"Liberation Serif", serif' font-size="26.80" stroke="#000" stroke-width="0.15">oo</text>
<text transform="translate(441.48,620.90) scale(1.1223,1)" font-family='"Liberation Serif", serif' font-size="45.00" stroke="#000" stroke-width="0.15">=</text>
<text transform="translate(467.16,617.90) scale(1.0910,1)" font-family='"Liberation Serif", serif' font-size="45.00" stroke="#000" stroke-width="0.15">85&#937;</text>
<text transform="translate(555.05,619.20) scale(0.8737,1)" font-family='"Liberation Sans", sans-serif' font-size="48.00" font-weight="bold" stroke="#000" stroke-width="0.15">,</text>
<text transform="translate(568.29,617.90) scale(1.1673,1)" font-family='"Liberation Serif", serif' font-size="45.00" stroke="#000" stroke-width="0.15">Z</text>
<text transform="translate(598.55,634.20) scale(1.1269,1)" font-family='"Liberation Serif", serif' font-size="26.80" stroke="#000" stroke-width="0.15">o</text>
<text transform="translate(614.41,633.40) scale(1.1035,1)" font-family='"Liberation Sans", sans-serif' font-size="25.30" stroke="#000" stroke-width="0.15">e</text>
<text transform="translate(628.36,620.90) scale(1.1318,1)" font-family='"Liberation Serif", serif' font-size="45.00" stroke="#000" stroke-width="0.15">=</text>
<text transform="translate(657.23,617.90) scale(1.0533,1)" font-family='"Liberation Serif", serif' font-size="45.00" stroke="#000" stroke-width="0.15">170&#937;</text>
<line x1="214.5" y1="696.4" x2="363.5" y2="696.4" stroke="#ff80ff" stroke-width="2.8" stroke-linecap="round"/>
<text transform="translate(381.00,718.30) scale(1.1629,1)" font-family='"Liberation Serif", serif' font-size="45.00" stroke="#000" stroke-width="0.15">Z</text>
<text transform="translate(411.53,734.60) scale(1.1511,1)" font-family='"Liberation Serif", serif' font-size="26.80" stroke="#000" stroke-width="0.15">oo</text>
<text transform="translate(441.48,721.30) scale(1.1223,1)" font-family='"Liberation Serif", serif' font-size="45.00" stroke="#000" stroke-width="0.15">=</text>
<text transform="translate(467.16,718.30) scale(1.0910,1)" font-family='"Liberation Serif", serif' font-size="45.00" stroke="#000" stroke-width="0.15">95&#937;</text>
<text transform="translate(555.05,719.60) scale(0.8737,1)" font-family='"Liberation Sans", sans-serif' font-size="48.00" font-weight="bold" stroke="#000" stroke-width="0.15">,</text>
<text transform="translate(568.29,718.30) scale(1.1673,1)" font-family='"Liberation Serif", serif' font-size="45.00" stroke="#000" stroke-width="0.15">Z</text>
<text transform="translate(598.55,734.60) scale(1.1269,1)" font-family='"Liberation Serif", serif' font-size="26.80" stroke="#000" stroke-width="0.15">o</text>
<text transform="translate(614.41,733.80) scale(1.1035,1)" font-family='"Liberation Sans", sans-serif' font-size="25.30" stroke="#000" stroke-width="0.15">e</text>
<text transform="translate(628.36,721.30) scale(1.1318,1)" font-family='"Liberation Serif", serif' font-size="45.00" stroke="#000" stroke-width="0.15">=</text>
<text transform="translate(657.23,718.30) scale(1.0533,1)" font-family='"Liberation Serif", serif' font-size="45.00" stroke="#000" stroke-width="0.15">162&#937;</text>
<line x1="214.5" y1="796.7" x2="363.5" y2="796.7" stroke="#000000" stroke-width="2.8" stroke-linecap="round"/>
<text transform="translate(381.00,818.60) scale(1.1629,1)" font-family='"Liberation Serif", serif' font-size="45.00" stroke="#000" stroke-width="0.15">Z</text>
<text transform="translate(411.53,834.90) scale(1.1511,1)" font-family='"Liberation Serif", serif' font-size="26.80" stroke="#000" stroke-width="0.15">oo</text>
<text transform="translate(441.48,821.60) scale(1.1223,1)" font-family='"Liberation Serif", serif' font-size="45.00" stroke="#000" stroke-width="0.15">=</text>
<text transform="translate(467.16,818.60) scale(1.0910,1)" font-family='"Liberation Serif", serif' font-size="45.00" stroke="#000" stroke-width="0.15">102&#937;</text>
<text transform="translate(579.60,819.90) scale(0.8737,1)" font-family='"Liberation Sans", sans-serif' font-size="48.00" font-weight="bold" stroke="#000" stroke-width="0.15">,</text>
<text transform="translate(592.83,818.60) scale(1.1673,1)" font-family='"Liberation Serif", serif' font-size="45.00" stroke="#000" stroke-width="0.15">Z</text>
<text transform="translate(623.10,834.90) scale(1.1269,1)" font-family='"Liberation Serif", serif' font-size="26.80" stroke="#000" stroke-width="0.15">o</text>
<text transform="translate(638.96,834.10) scale(1.1035,1)" font-family='"Liberation Sans", sans-serif' font-size="25.30" stroke="#000" stroke-width="0.15">e</text>
<text transform="translate(652.91,821.60) scale(1.1318,1)" font-family='"Liberation Serif", serif' font-size="45.00" stroke="#000" stroke-width="0.15">=</text>
<text transform="translate(681.78,818.60) scale(1.0533,1)" font-family='"Liberation Serif", serif' font-size="45.00" stroke="#000" stroke-width="0.15">155&#937;</text>
<text transform="translate(601.16,1090.20) scale(1.0184,1)" font-family='"Liberation Sans", sans-serif' font-size="49.50">Frequency(GHz)</text>
<text transform="translate(40.2,461.1) rotate(-90)" text-anchor="middle" font-family='"Liberation Sans", sans-serif' font-size="49.5">S21(dB)</text>
<text transform="translate(755.65,1162.80) scale(1.0172,1)" font-family='"Liberation Serif", serif' font-size="48.00">(a)</text>
<path d="M186.3,1266.6 L186.3,2200.8 L1387.6,2200.8" fill="none" stroke="#000" stroke-width="3.3" stroke-linejoin="miter" stroke-linecap="square"/>
<line x1="165.3" y1="1266.6" x2="186.3" y2="1266.6" stroke="#000" stroke-width="3.2" stroke-linecap="round"/>
<text x="154.1" y="1278.9" text-anchor="end" font-family='"Liberation Sans", sans-serif' font-size="40">0</text>
<line x1="175.3" y1="1351.5" x2="186.3" y2="1351.5" stroke="#000" stroke-width="3.2" stroke-linecap="round"/>
<line x1="165.3" y1="1436.4" x2="186.3" y2="1436.4" stroke="#000" stroke-width="3.2" stroke-linecap="round"/>
<text x="154.1" y="1448.7" text-anchor="end" font-family='"Liberation Sans", sans-serif' font-size="40">-10</text>
<line x1="175.3" y1="1521.3" x2="186.3" y2="1521.3" stroke="#000" stroke-width="3.2" stroke-linecap="round"/>
<line x1="165.3" y1="1606.2" x2="186.3" y2="1606.2" stroke="#000" stroke-width="3.2" stroke-linecap="round"/>
<text x="154.1" y="1618.5" text-anchor="end" font-family='"Liberation Sans", sans-serif' font-size="40">-20</text>
<line x1="175.3" y1="1691.1" x2="186.3" y2="1691.1" stroke="#000" stroke-width="3.2" stroke-linecap="round"/>
<line x1="165.3" y1="1776.0" x2="186.3" y2="1776.0" stroke="#000" stroke-width="3.2" stroke-linecap="round"/>
<text x="154.1" y="1788.3" text-anchor="end" font-family='"Liberation Sans", sans-serif' font-size="40">-30</text>
<line x1="175.3" y1="1860.9" x2="186.3" y2="1860.9" stroke="#000" stroke-width="3.2" stroke-linecap="round"/>
<line x1="165.3" y1="1945.8" x2="186.3" y2="1945.8" stroke="#000" stroke-width="3.2" stroke-linecap="round"/>
<text x="154.1" y="1958.1" text-anchor="end" font-family='"Liberation Sans", sans-serif' font-size="40">-40</text>
<line x1="175.3" y1="2030.7" x2="186.3" y2="2030.7" stroke="#000" stroke-width="3.2" stroke-linecap="round"/>
<line x1="165.3" y1="2115.6" x2="186.3" y2="2115.6" stroke="#000" stroke-width="3.2" stroke-linecap="round"/>
<text x="154.1" y="2127.9" text-anchor="end" font-family='"Liberation Sans", sans-serif' font-size="40">-50</text>
<line x1="175.3" y1="2200.5" x2="186.3" y2="2200.5" stroke="#000" stroke-width="3.2" stroke-linecap="round"/>
<line x1="186.3" y1="2200.8" x2="186.3" y2="2219.8" stroke="#000" stroke-width="3.2" stroke-linecap="round"/>
<text x="186.3" y="2262.3" text-anchor="middle" font-family='"Liberation Sans", sans-serif' font-size="40">0</text>
<line x1="259.5" y1="2200.8" x2="259.5" y2="2210.8" stroke="#000" stroke-width="3.2" stroke-linecap="round"/>
<line x1="332.6" y1="2200.8" x2="332.6" y2="2219.8" stroke="#000" stroke-width="3.2" stroke-linecap="round"/>
<text x="332.6" y="2262.3" text-anchor="middle" font-family='"Liberation Sans", sans-serif' font-size="40">1</text>
<line x1="405.8" y1="2200.8" x2="405.8" y2="2210.8" stroke="#000" stroke-width="3.2" stroke-linecap="round"/>
<line x1="478.9" y1="2200.8" x2="478.9" y2="2219.8" stroke="#000" stroke-width="3.2" stroke-linecap="round"/>
<text x="478.9" y="2262.3" text-anchor="middle" font-family='"Liberation Sans", sans-serif' font-size="40">2</text>
<line x1="552.0" y1="2200.8" x2="552.0" y2="2210.8" stroke="#000" stroke-width="3.2" stroke-linecap="round"/>
<line x1="625.2" y1="2200.8" x2="625.2" y2="2219.8" stroke="#000" stroke-width="3.2" stroke-linecap="round"/>
<text x="625.2" y="2262.3" text-anchor="middle" font-family='"Liberation Sans", sans-serif' font-size="40">3</text>
<line x1="698.4" y1="2200.8" x2="698.4" y2="2210.8" stroke="#000" stroke-width="3.2" stroke-linecap="round"/>
<line x1="771.5" y1="2200.8" x2="771.5" y2="2219.8" stroke="#000" stroke-width="3.2" stroke-linecap="round"/>
<text x="771.5" y="2262.3" text-anchor="middle" font-family='"Liberation Sans", sans-serif' font-size="40">4</text>
<line x1="844.7" y1="2200.8" x2="844.7" y2="2210.8" stroke="#000" stroke-width="3.2" stroke-linecap="round"/>
<line x1="917.8" y1="2200.8" x2="917.8" y2="2219.8" stroke="#000" stroke-width="3.2" stroke-linecap="round"/>
<text x="917.8" y="2262.3" text-anchor="middle" font-family='"Liberation Sans", sans-serif' font-size="40">5</text>
<line x1="991.0" y1="2200.8" x2="991.0" y2="2210.8" stroke="#000" stroke-width="3.2" stroke-linecap="round"/>
<line x1="1064.1" y1="2200.8" x2="1064.1" y2="2219.8" stroke="#000" stroke-width="3.2" stroke-linecap="round"/>
<text x="1064.1" y="2262.3" text-anchor="middle" font-family='"Liberation Sans", sans-serif' font-size="40">6</text>
<line x1="1137.2" y1="2200.8" x2="1137.2" y2="2210.8" stroke="#000" stroke-width="3.2" stroke-linecap="round"/>
<line x1="1210.4" y1="2200.8" x2="1210.4" y2="2219.8" stroke="#000" stroke-width="3.2" stroke-linecap="round"/>
<text x="1210.4" y="2262.3" text-anchor="middle" font-family='"Liberation Sans", sans-serif' font-size="40">7</text>
<line x1="1283.5" y1="2200.8" x2="1283.5" y2="2210.8" stroke="#000" stroke-width="3.2" stroke-linecap="round"/>
<line x1="1356.7" y1="2200.8" x2="1356.7" y2="2219.8" stroke="#000" stroke-width="3.2" stroke-linecap="round"/>
<text x="1356.7" y="2262.3" text-anchor="middle" font-family='"Liberation Sans", sans-serif' font-size="40">8</text>
<path d="M187.00,1664.70 C187.63,1682.80 188.34,1699.09 188.90,1719.00 C189.58,1743.31 190.15,1779.57 190.60,1800.00 C190.88,1812.43 190.55,1822.37 191.30,1830.00 C191.77,1834.76 192.50,1838.81 193.30,1841.50 C193.76,1843.04 194.30,1843.83 194.80,1845.00 C195.50,1836.67 196.37,1827.87 196.90,1820.00 C197.37,1812.97 197.45,1808.23 197.90,1800.00 C198.63,1786.73 199.89,1764.98 201.00,1748.00 C202.06,1731.68 203.13,1713.24 204.40,1700.00 C205.30,1690.61 206.31,1683.91 207.30,1676.00 C208.27,1668.25 209.09,1661.10 210.30,1653.00 C211.66,1643.88 213.37,1633.65 215.20,1624.00 C217.04,1614.31 219.35,1605.14 221.30,1595.00 C223.43,1583.90 225.14,1570.00 227.40,1560.00 C229.13,1552.36 230.54,1548.56 233.00,1540.00 C237.45,1524.53 244.70,1495.39 252.20,1475.00 C259.18,1456.03 268.40,1436.76 276.00,1421.40 C281.94,1409.40 288.38,1399.03 293.20,1390.00 C296.82,1383.22 298.64,1378.84 302.50,1372.10 C307.78,1362.86 315.93,1350.11 322.60,1340.00 C328.76,1330.67 334.57,1320.87 341.00,1313.50 C346.42,1307.29 353.46,1302.39 357.90,1298.00 C360.97,1294.96 362.82,1292.10 365.40,1290.00 C367.58,1288.23 369.28,1287.44 372.10,1285.90 C376.58,1283.46 384.28,1279.52 390.00,1277.30 C394.96,1275.38 399.49,1274.07 404.30,1273.00 C409.03,1271.95 414.18,1271.53 418.60,1270.90 C422.42,1270.35 425.72,1269.67 429.30,1269.40 C432.86,1269.14 435.30,1269.29 440.00,1269.30 C449.09,1269.31 465.16,1269.84 480.00,1269.80 C498.60,1269.75 522.44,1268.88 542.90,1268.70 C562.39,1268.53 579.04,1268.46 600.00,1268.70 C625.68,1269.00 660.01,1270.36 685.70,1270.70 C706.69,1270.98 730.90,1270.09 742.90,1270.90 C748.44,1271.27 751.91,1271.52 755.00,1272.50 C757.10,1273.16 758.10,1274.14 760.00,1275.10 C762.50,1276.37 766.04,1277.19 768.70,1279.40 C771.95,1282.10 774.94,1287.02 777.40,1291.00 C779.73,1294.76 781.41,1298.27 783.20,1302.60 C785.33,1307.75 787.07,1314.20 789.00,1320.00 C790.93,1325.80 793.17,1331.83 794.80,1337.40 C796.28,1342.45 797.42,1346.86 798.50,1352.00 C799.69,1357.66 800.39,1364.17 801.50,1370.00 C802.56,1375.56 804.01,1380.40 805.00,1386.20 C806.13,1392.84 806.77,1400.13 807.70,1407.70 C808.73,1416.16 809.92,1425.63 810.90,1434.60 C811.88,1443.56 812.74,1453.03 813.60,1461.50 C814.37,1469.09 815.14,1476.34 815.80,1483.10 C816.39,1489.08 816.84,1493.17 817.40,1500.00 C818.26,1510.50 819.28,1526.67 820.20,1540.00 C821.12,1553.33 822.02,1563.28 822.90,1580.00 C824.38,1608.02 825.58,1653.26 827.20,1692.60 C828.98,1735.91 831.20,1783.60 833.20,1829.10 C834.73,1783.60 835.78,1732.40 837.80,1692.60 C839.37,1661.61 841.67,1630.80 843.40,1610.00 C844.45,1597.34 845.25,1589.14 846.40,1579.50 C847.44,1570.77 848.51,1562.13 849.90,1554.60 C851.07,1548.25 852.55,1542.49 853.90,1537.20 C855.05,1532.70 856.08,1529.11 857.40,1524.80 C858.85,1520.05 860.48,1514.31 862.30,1509.90 C863.83,1506.17 865.45,1502.70 867.30,1499.90 C868.84,1497.57 870.36,1495.32 872.30,1494.00 C874.04,1492.81 876.22,1491.83 878.20,1492.00 C880.35,1492.18 882.80,1494.05 884.70,1495.50 C886.55,1496.90 887.93,1498.37 889.50,1500.50 C891.65,1503.42 893.94,1507.16 895.80,1511.90 C898.50,1518.76 900.61,1528.80 902.40,1538.40 C904.48,1549.56 905.49,1560.51 907.00,1575.00 C909.19,1596.08 911.67,1623.81 913.40,1652.80 C915.58,1689.44 916.47,1735.87 918.00,1777.40 C919.57,1749.13 921.25,1720.42 922.70,1692.60 C924.11,1665.65 925.71,1633.79 926.60,1613.00 C927.17,1599.62 927.31,1592.97 927.80,1580.00 C928.51,1561.37 929.37,1534.44 930.50,1511.90 C931.61,1489.65 932.83,1466.45 934.50,1445.60 C936.00,1426.93 937.48,1408.16 939.80,1392.60 C941.65,1380.20 943.83,1370.64 946.40,1359.40 C949.09,1347.65 951.87,1333.81 955.70,1323.60 C958.77,1315.43 962.09,1308.56 966.30,1302.40 C970.14,1296.78 974.52,1291.71 979.50,1287.80 C984.27,1284.05 989.37,1281.27 995.40,1279.20 C1002.38,1276.80 1010.80,1276.02 1019.30,1275.20 C1028.86,1274.28 1038.79,1274.72 1050.00,1274.40 C1063.57,1274.01 1081.54,1273.21 1095.00,1273.00 C1105.95,1272.83 1116.62,1272.00 1124.80,1273.00 C1130.67,1273.72 1135.16,1275.10 1139.70,1276.70 C1143.77,1278.14 1147.67,1279.78 1150.90,1281.90 C1153.81,1283.82 1156.00,1286.10 1158.40,1288.60 C1160.98,1291.29 1163.50,1294.64 1165.80,1297.60 C1167.95,1300.37 1170.11,1303.15 1171.80,1305.80 C1173.27,1308.10 1174.20,1310.21 1175.50,1312.50 C1176.89,1314.94 1178.34,1316.64 1179.90,1320.00 C1182.69,1326.00 1186.54,1337.38 1189.20,1346.20 C1191.83,1354.94 1193.78,1362.93 1195.80,1372.70 C1198.26,1384.56 1200.70,1400.35 1202.40,1412.40 C1203.81,1422.41 1204.39,1428.81 1205.60,1440.00 C1207.47,1457.33 1210.28,1483.18 1212.20,1506.30 C1214.30,1531.58 1215.65,1560.51 1217.50,1585.80 C1219.19,1608.91 1221.37,1633.38 1222.80,1652.10 C1223.85,1665.86 1224.53,1675.97 1225.40,1687.90 C1226.30,1671.53 1227.13,1657.13 1228.10,1638.80 C1229.33,1615.48 1230.72,1584.60 1232.10,1559.30 C1233.36,1536.19 1233.63,1511.23 1236.00,1493.00 C1237.69,1480.00 1239.52,1468.39 1242.70,1459.90 C1244.89,1454.06 1248.04,1446.28 1250.60,1446.00 C1252.40,1445.81 1254.44,1448.71 1255.90,1451.90 C1259.25,1459.20 1259.60,1477.65 1261.20,1493.00 C1263.23,1512.45 1264.99,1536.19 1266.50,1559.30 C1268.15,1584.59 1269.23,1610.99 1270.50,1638.80 C1271.91,1669.48 1272.04,1724.33 1274.50,1735.60 C1275.04,1738.10 1275.70,1738.53 1276.30,1740.00 C1278.50,1717.97 1280.19,1691.98 1282.90,1673.90 C1284.81,1661.17 1287.01,1651.24 1289.40,1641.60 C1291.38,1633.63 1293.48,1620.06 1295.80,1620.00 C1298.14,1619.94 1300.42,1635.81 1303.40,1641.60 C1305.65,1645.97 1308.90,1648.60 1310.90,1652.30 C1312.78,1655.79 1313.66,1658.48 1315.20,1663.10 C1317.81,1670.94 1321.29,1685.11 1323.90,1695.40 C1326.27,1704.76 1328.29,1711.25 1330.30,1722.30 C1333.44,1739.61 1335.67,1767.00 1338.80,1789.60 C1341.99,1812.62 1346.00,1835.99 1349.30,1859.20 C1352.60,1882.39 1356.02,1906.32 1358.60,1928.80 C1361.02,1949.83 1362.58,1970.41 1364.50,1990.00 C1366.27,2008.09 1368.20,2025.59 1369.70,2042.20 C1371.06,2057.35 1372.11,2070.54 1373.20,2085.70 C1374.39,2102.28 1375.30,2124.69 1376.50,2137.80 C1377.23,2145.78 1377.95,2151.46 1378.80,2157.00 C1379.45,2161.27 1380.20,2164.53 1380.90,2168.30 C1382.63,2163.93 1384.93,2160.74 1386.10,2155.20 C1387.93,2146.49 1386.97,2132.00 1387.40,2120.40" fill="none" stroke="#00ff00" stroke-width="2.6" stroke-linejoin="round" stroke-linecap="round"/>
<path d="M186.50,1650.80 C187.50,1661.53 188.66,1672.73 189.50,1683.00 C190.27,1692.39 190.85,1699.62 191.40,1710.00 C192.15,1724.11 192.69,1744.82 193.20,1760.00 C193.63,1772.70 194.02,1786.62 194.30,1795.00 C194.46,1799.70 194.57,1802.33 194.70,1806.00 C195.40,1801.33 196.07,1797.96 196.80,1792.00 C198.08,1781.60 199.71,1763.81 200.90,1749.00 C202.17,1733.21 202.88,1713.45 204.10,1700.00 C204.96,1690.54 205.94,1683.85 206.90,1675.90 C207.84,1668.12 208.63,1660.93 209.80,1652.80 C211.11,1643.67 212.75,1633.45 214.50,1623.80 C216.25,1614.12 218.34,1604.91 220.30,1594.80 C222.44,1583.73 224.48,1569.96 226.80,1560.00 C228.58,1552.37 229.94,1548.57 232.40,1540.00 C236.84,1524.53 244.01,1495.39 251.50,1475.00 C258.46,1456.03 267.51,1436.72 275.30,1421.40 C281.42,1409.36 288.66,1399.09 293.40,1390.00 C296.90,1383.28 298.28,1378.85 301.80,1372.10 C306.62,1362.86 314.12,1350.15 320.30,1340.00 C326.03,1330.59 331.32,1320.56 337.50,1313.20 C342.69,1307.02 349.73,1302.35 354.00,1298.00 C356.95,1294.99 358.81,1292.22 361.10,1290.00 C362.95,1288.20 364.14,1287.11 366.50,1285.50 C370.25,1282.95 376.60,1279.33 382.00,1277.00 C387.43,1274.66 393.36,1272.75 399.00,1271.50 C404.36,1270.31 409.94,1269.95 415.00,1269.50 C419.55,1269.09 423.75,1268.83 428.00,1268.80 C432.08,1268.78 434.83,1269.16 440.00,1269.30 C449.44,1269.56 465.16,1269.84 480.00,1269.80 C498.60,1269.75 529.43,1268.53 542.90,1268.70 C549.28,1268.78 551.02,1269.08 557.00,1269.30 C567.44,1269.69 584.68,1269.69 600.00,1270.70 C617.68,1271.87 641.21,1275.36 657.00,1276.40 C668.18,1277.13 674.51,1277.68 685.70,1277.30 C701.53,1276.76 731.13,1271.57 742.90,1271.60 C748.16,1271.61 751.20,1272.03 754.30,1272.80 C756.57,1273.37 757.92,1274.17 760.00,1275.10 C762.61,1276.27 766.04,1277.19 768.70,1279.40 C771.95,1282.10 774.94,1287.02 777.40,1291.00 C779.73,1294.76 781.41,1298.27 783.20,1302.60 C785.33,1307.75 787.07,1314.20 789.00,1320.00 C790.93,1325.80 792.93,1331.36 794.80,1337.40 C796.81,1343.89 798.79,1351.45 800.60,1357.70 C802.16,1363.08 803.55,1367.08 805.00,1372.70 C806.83,1379.78 808.74,1388.59 810.40,1396.90 C812.15,1405.64 813.58,1414.91 815.20,1423.90 C816.82,1432.88 818.66,1441.82 820.10,1450.80 C821.53,1459.75 822.73,1469.15 823.80,1477.70 C824.77,1485.48 825.41,1492.14 826.30,1500.00 C827.30,1508.80 828.30,1518.36 829.50,1528.00 C830.78,1538.32 832.45,1548.13 833.80,1560.00 C835.49,1574.80 837.32,1593.97 838.50,1610.00 C839.59,1624.81 839.88,1634.60 840.80,1652.80 C842.42,1684.81 845.49,1747.41 847.10,1785.30 C848.31,1813.74 848.31,1841.08 849.90,1860.00 C850.88,1871.67 852.37,1878.80 853.60,1888.20 C854.10,1876.00 854.48,1867.12 855.10,1851.60 C856.19,1824.51 857.41,1773.49 859.50,1740.00 C861.21,1712.50 863.93,1683.12 865.90,1665.00 C867.02,1654.66 867.83,1649.35 869.10,1640.70 C870.56,1630.73 872.32,1617.90 874.30,1608.60 C875.85,1601.31 877.50,1595.40 879.40,1589.30 C881.16,1583.65 883.02,1578.40 885.20,1573.20 C887.33,1568.11 889.61,1562.67 892.30,1558.40 C894.63,1554.70 897.09,1551.60 900.00,1548.80 C902.87,1546.04 906.42,1543.65 909.60,1541.70 C912.42,1539.97 915.64,1537.49 918.00,1537.50 C919.73,1537.51 921.16,1538.53 922.50,1539.80 C924.28,1541.48 925.56,1544.54 927.00,1547.50 C928.79,1551.19 930.51,1555.62 932.10,1560.40 C934.00,1566.12 935.83,1572.91 937.30,1579.60 C938.87,1586.77 939.95,1594.33 941.10,1602.10 C942.33,1610.39 943.36,1615.96 944.40,1627.90 C946.73,1654.70 949.08,1718.27 950.50,1758.80 C951.73,1793.93 952.03,1824.40 952.80,1857.20 C954.70,1800.40 956.55,1733.73 958.50,1686.80 C959.87,1653.74 961.16,1625.63 962.70,1602.30 C963.79,1585.77 965.38,1573.43 966.20,1560.00 C966.95,1547.82 967.02,1537.94 967.60,1525.10 C968.32,1509.27 969.08,1488.49 970.30,1472.10 C971.36,1457.87 972.67,1445.54 974.20,1432.30 C975.73,1419.04 977.50,1405.82 979.50,1392.60 C981.50,1379.32 983.28,1364.95 986.20,1352.80 C988.74,1342.22 991.66,1333.09 995.40,1323.60 C999.15,1314.08 1002.92,1302.76 1008.70,1295.80 C1013.50,1290.01 1019.30,1285.87 1025.90,1283.20 C1032.95,1280.35 1040.96,1281.05 1050.00,1279.90 C1061.61,1278.42 1078.76,1276.04 1089.80,1275.20 C1097.62,1274.60 1103.72,1274.15 1109.90,1274.50 C1115.25,1274.80 1120.96,1275.94 1124.80,1276.70 C1127.26,1277.19 1128.89,1277.29 1130.80,1278.20 C1132.91,1279.20 1134.92,1280.87 1136.80,1282.70 C1138.91,1284.75 1140.96,1287.49 1142.70,1290.10 C1144.43,1292.69 1145.81,1295.21 1147.20,1298.30 C1148.86,1302.01 1150.37,1306.56 1151.70,1311.00 C1153.12,1315.74 1154.28,1320.92 1155.40,1325.90 C1156.51,1330.85 1157.45,1335.54 1158.40,1340.80 C1159.46,1346.67 1160.40,1353.28 1161.40,1359.50 C1162.40,1365.71 1163.34,1371.61 1164.40,1378.10 C1165.56,1385.22 1166.91,1392.74 1168.10,1400.50 C1169.38,1408.86 1170.80,1418.13 1171.80,1426.60 C1172.74,1434.60 1173.27,1441.16 1174.00,1450.00 C1174.95,1461.55 1175.76,1476.44 1176.80,1490.00 C1177.88,1504.03 1179.20,1515.80 1180.40,1532.80 C1182.17,1557.81 1184.12,1595.86 1185.70,1625.60 C1187.16,1653.12 1188.57,1681.04 1189.60,1705.10 C1190.45,1725.09 1190.98,1743.62 1191.60,1760.00 C1192.10,1773.26 1192.53,1784.00 1193.00,1796.00 C1193.20,1784.00 1193.01,1774.41 1193.60,1760.00 C1194.49,1738.32 1197.19,1706.63 1198.90,1678.60 C1200.73,1648.68 1201.63,1611.38 1204.20,1585.80 C1206.03,1567.63 1208.52,1551.87 1210.90,1539.40 C1212.53,1530.86 1213.50,1523.56 1216.00,1518.00 C1217.84,1513.92 1220.45,1508.30 1222.80,1508.30 C1225.33,1508.30 1228.50,1514.72 1230.70,1519.50 C1233.80,1526.25 1235.49,1535.09 1237.40,1546.00 C1240.38,1563.04 1242.27,1589.17 1244.00,1612.30 C1245.89,1637.60 1246.87,1666.40 1248.00,1691.90 C1249.04,1715.48 1249.91,1738.61 1250.60,1760.00 C1251.21,1779.04 1251.53,1796.00 1252.00,1814.00 C1253.30,1796.00 1254.59,1780.52 1255.90,1760.00 C1257.64,1732.84 1259.10,1692.30 1261.20,1665.30 C1262.78,1645.07 1264.32,1626.89 1266.50,1612.30 C1268.06,1601.91 1268.47,1591.37 1271.80,1585.80 C1273.87,1582.35 1277.33,1579.09 1279.80,1579.20 C1282.10,1579.30 1283.88,1583.33 1286.20,1585.50 C1288.83,1587.95 1292.83,1589.68 1294.80,1593.10 C1297.15,1597.19 1297.08,1602.68 1298.00,1609.20 C1299.40,1619.10 1300.13,1634.33 1301.20,1646.90 C1301.93,1639.73 1302.46,1630.16 1303.40,1625.40 C1303.88,1622.97 1304.47,1621.80 1305.00,1620.00 L1307.20,1657.70 C1308.07,1654.10 1308.74,1646.88 1309.80,1646.90 C1311.92,1646.94 1315.40,1676.74 1318.50,1690.00 C1321.19,1701.50 1324.30,1709.28 1327.00,1722.00 C1330.88,1740.29 1334.27,1766.89 1337.80,1789.60 C1341.38,1812.62 1345.00,1835.99 1348.30,1859.20 C1351.60,1882.39 1355.02,1906.32 1357.60,1928.80 C1360.02,1949.83 1361.58,1970.41 1363.50,1990.00 C1365.27,2008.09 1367.20,2025.59 1368.70,2042.20 C1370.06,2057.35 1371.08,2070.54 1372.20,2085.70 C1373.42,2102.28 1374.33,2125.10 1375.70,2137.80 C1376.50,2145.17 1377.32,2150.04 1378.30,2155.20 C1379.09,2159.39 1380.03,2162.73 1380.90,2166.50 C1382.03,2156.93 1383.22,2146.70 1384.30,2137.80 C1385.24,2130.06 1386.10,2123.33 1387.00,2116.10" fill="none" stroke="#ff0000" stroke-width="2.6" stroke-linejoin="round" stroke-linecap="round"/>
<path d="M186.50,1738.00 C186.67,1721.83 186.69,1703.71 187.00,1689.50 C187.24,1678.36 187.48,1667.92 188.00,1659.70 C188.37,1653.87 188.93,1649.77 189.40,1644.80 C189.90,1659.70 190.29,1672.47 190.90,1689.50 C191.71,1712.21 193.06,1752.95 193.90,1769.00 C194.26,1775.98 194.57,1779.00 194.90,1784.00 C195.83,1772.67 196.79,1762.43 197.70,1750.00 C198.80,1734.94 199.67,1713.63 200.90,1700.00 C201.75,1690.54 202.74,1683.91 203.70,1676.00 C204.64,1668.25 205.43,1661.10 206.60,1653.00 C207.91,1643.88 209.55,1633.65 211.30,1624.00 C213.05,1614.32 215.09,1605.12 217.10,1595.00 C219.31,1583.88 221.64,1570.01 224.00,1560.00 C225.80,1552.37 227.06,1548.56 229.50,1540.00 C233.91,1524.52 241.15,1495.38 248.70,1475.00 C255.73,1456.02 265.00,1436.73 272.80,1421.40 C278.91,1409.38 285.96,1399.08 290.70,1390.00 C294.21,1383.27 295.78,1378.89 299.20,1372.10 C303.83,1362.91 310.40,1350.13 316.30,1340.00 C321.83,1330.50 327.53,1320.44 333.40,1313.00 C338.15,1306.98 343.89,1302.22 348.00,1298.00 C351.00,1294.92 353.46,1292.32 355.80,1290.00 C357.66,1288.15 358.62,1286.81 360.90,1285.10 C364.44,1282.45 370.40,1278.93 375.70,1276.60 C381.26,1274.15 387.58,1272.22 393.60,1270.90 C399.48,1269.61 405.78,1269.11 411.40,1268.70 C416.42,1268.34 420.94,1268.28 425.70,1268.40 C430.47,1268.52 434.03,1269.16 440.00,1269.40 C449.97,1269.80 465.16,1269.86 480.00,1269.80 C498.60,1269.73 529.43,1268.53 542.90,1268.70 C549.28,1268.78 551.03,1268.87 557.00,1269.30 C567.45,1270.04 584.67,1271.88 600.00,1273.60 C617.67,1275.58 641.20,1279.55 657.00,1280.70 C668.17,1281.51 675.22,1282.12 685.70,1281.30 C698.61,1280.29 716.97,1275.31 728.60,1273.60 C736.50,1272.44 742.88,1271.06 748.60,1271.30 C752.95,1271.48 755.98,1271.93 760.00,1273.60 C765.40,1275.84 772.96,1280.54 777.40,1285.20 C781.40,1289.39 783.55,1294.79 786.10,1299.70 C788.57,1304.46 790.44,1308.91 792.50,1314.20 C794.90,1320.35 797.08,1327.74 799.40,1334.50 C801.72,1341.27 804.26,1348.52 806.40,1354.80 C808.25,1360.23 809.77,1364.18 811.50,1370.00 C813.78,1377.66 816.35,1387.90 818.50,1396.90 C820.65,1405.87 822.43,1414.91 824.40,1423.90 C826.36,1432.88 828.42,1441.82 830.30,1450.80 C832.18,1459.76 834.30,1470.46 835.70,1477.70 C836.65,1482.59 837.16,1485.00 838.00,1490.00 C839.31,1497.76 841.04,1510.31 842.50,1519.80 C843.83,1528.47 845.08,1536.41 846.40,1544.70 C847.72,1552.98 849.08,1561.69 850.40,1569.50 C851.58,1576.50 852.99,1582.69 853.90,1589.40 C854.83,1596.19 855.19,1602.67 855.90,1610.00 C856.71,1618.39 857.68,1627.84 858.50,1637.00 C859.35,1646.49 860.01,1653.30 860.90,1666.00 C862.60,1690.28 865.34,1738.39 867.00,1772.10 C868.51,1802.77 869.49,1827.56 870.60,1860.00 C871.97,1900.19 873.07,1950.00 874.30,1995.00 C876.10,1950.00 877.79,1904.37 879.70,1860.00 C881.56,1816.84 882.57,1769.80 885.60,1732.30 C888.00,1702.63 890.33,1676.96 894.80,1652.80 C898.63,1632.08 905.58,1608.86 909.40,1595.80 C911.43,1588.85 912.26,1585.75 914.60,1580.00 C917.58,1572.65 921.17,1561.81 926.50,1555.60 C931.18,1550.15 938.64,1543.25 943.70,1543.70 C948.25,1544.10 952.52,1551.57 955.70,1555.60 C958.39,1559.02 960.20,1562.17 962.00,1566.00 C963.99,1570.23 965.49,1574.73 966.90,1580.00 C968.64,1586.51 969.82,1592.74 971.10,1602.30 C973.36,1619.16 975.15,1649.22 976.80,1672.70 C978.45,1696.16 979.72,1719.63 981.00,1743.10 C982.28,1766.56 983.81,1791.64 984.50,1813.50 C985.10,1832.55 984.97,1849.17 985.20,1867.00 C986.13,1821.00 986.65,1771.14 988.00,1729.00 C989.14,1693.37 991.02,1657.80 992.30,1630.40 C993.21,1610.81 993.91,1598.06 994.80,1580.00 C995.83,1559.01 996.78,1533.18 998.10,1511.90 C999.26,1493.09 1000.34,1476.47 1002.10,1458.80 C1003.87,1441.10 1006.42,1422.87 1008.70,1405.80 C1010.83,1389.81 1012.60,1373.50 1015.30,1359.40 C1017.60,1347.38 1019.79,1336.57 1023.30,1326.30 C1026.54,1316.82 1030.38,1306.79 1035.20,1299.80 C1039.08,1294.17 1043.73,1289.78 1048.50,1286.50 C1052.73,1283.59 1057.37,1282.26 1062.00,1280.50 C1066.70,1278.72 1071.31,1276.91 1076.50,1275.90 C1082.23,1274.79 1089.17,1274.43 1095.00,1274.50 C1100.24,1274.56 1105.86,1274.84 1109.90,1276.00 C1112.92,1276.87 1115.02,1278.08 1117.40,1279.70 C1120.00,1281.47 1122.57,1283.93 1124.80,1286.40 C1127.05,1288.89 1129.05,1291.73 1130.80,1294.60 C1132.54,1297.46 1134.02,1300.14 1135.30,1303.60 C1136.88,1307.87 1137.83,1313.24 1139.00,1318.50 C1140.31,1324.34 1141.50,1330.60 1142.70,1337.10 C1144.01,1344.21 1145.29,1351.74 1146.50,1359.50 C1147.80,1367.86 1148.97,1376.90 1150.20,1385.60 C1151.43,1394.30 1152.75,1403.33 1153.90,1411.70 C1154.97,1419.45 1155.97,1427.27 1156.90,1434.10 C1157.68,1439.85 1158.35,1442.61 1159.10,1450.00 C1160.81,1466.80 1162.63,1503.50 1164.50,1532.80 C1166.61,1565.95 1169.25,1605.99 1171.10,1638.80 C1172.70,1667.22 1174.19,1696.13 1175.10,1718.40 C1175.76,1734.49 1175.98,1744.34 1176.40,1760.00 C1176.95,1780.31 1177.47,1806.67 1178.00,1830.00 L1182.00,1826.00 C1182.33,1804.00 1182.26,1783.15 1183.00,1760.00 C1183.83,1734.28 1185.09,1704.32 1187.00,1678.60 C1188.73,1655.34 1190.22,1629.29 1193.60,1612.30 C1195.78,1601.35 1198.40,1592.46 1201.60,1585.80 C1203.78,1581.26 1206.47,1575.20 1208.90,1575.20 C1211.33,1575.20 1214.22,1581.51 1216.20,1585.80 C1218.70,1591.22 1220.00,1597.21 1221.50,1605.70 C1224.05,1620.17 1225.08,1644.90 1226.80,1665.30 C1228.62,1686.81 1231.00,1714.11 1232.10,1731.60 C1232.82,1743.04 1232.86,1748.16 1233.40,1760.00 C1234.30,1779.74 1235.80,1812.67 1237.00,1839.00 C1237.57,1812.67 1237.76,1786.52 1238.70,1760.00 C1239.65,1733.06 1241.14,1705.57 1242.70,1678.60 C1244.24,1651.94 1245.44,1622.89 1248.00,1599.10 C1250.10,1579.57 1251.51,1560.80 1255.90,1546.00 C1259.29,1534.57 1264.12,1518.20 1269.20,1516.90 C1272.47,1516.06 1276.61,1520.88 1279.80,1524.80 C1284.42,1530.49 1287.91,1540.97 1291.50,1550.00 C1295.48,1560.00 1298.82,1571.08 1302.30,1582.30 C1306.04,1594.34 1309.61,1606.98 1313.10,1620.00 C1316.82,1633.86 1320.69,1648.23 1323.90,1663.10 C1327.30,1678.83 1329.88,1693.79 1332.80,1712.00 C1336.47,1734.86 1339.95,1764.45 1343.60,1789.60 C1347.06,1813.44 1351.00,1835.97 1354.10,1859.20 C1357.20,1882.37 1359.70,1906.34 1362.20,1928.80 C1364.54,1949.85 1366.68,1970.41 1368.70,1990.00 C1370.56,2008.09 1372.45,2024.80 1373.90,2042.20 C1375.35,2059.56 1376.03,2079.26 1377.40,2094.30 C1378.45,2105.83 1379.16,2118.94 1380.90,2124.80 C1381.66,2127.35 1382.63,2128.27 1383.50,2130.00 C1384.37,2123.90 1385.51,2118.67 1386.10,2111.70 C1386.88,2102.51 1386.70,2090.30 1387.00,2079.60" fill="none" stroke="#00ffff" stroke-width="2.6" stroke-linejoin="round" stroke-linecap="round"/>
<path d="M186.80,1625.00 C187.17,1628.47 187.49,1630.79 187.90,1635.40 C188.71,1644.49 190.09,1664.23 190.80,1676.00 C191.35,1685.04 191.63,1690.20 192.00,1700.00 C192.58,1715.49 193.01,1740.12 193.50,1760.00 C193.98,1779.65 194.64,1808.06 194.90,1818.60 C195.00,1822.49 195.03,1823.93 195.10,1826.60 C195.87,1815.63 196.59,1805.51 197.40,1793.70 C198.34,1779.94 199.39,1764.24 200.40,1749.00 C201.46,1733.04 202.38,1713.45 203.60,1700.00 C204.46,1690.54 205.44,1683.85 206.40,1675.90 C207.34,1668.12 208.13,1660.93 209.30,1652.80 C210.61,1643.67 212.25,1633.45 214.00,1623.80 C215.75,1614.12 217.86,1604.91 219.80,1594.80 C221.92,1583.74 223.92,1569.96 226.20,1560.00 C227.95,1552.37 229.27,1548.56 231.70,1540.00 C236.09,1524.53 243.27,1495.39 250.70,1475.00 C257.61,1456.03 266.69,1436.74 274.30,1421.40 C280.26,1409.39 287.09,1399.08 291.70,1390.00 C295.12,1383.27 296.64,1378.88 300.00,1372.10 C304.55,1362.90 311.04,1350.13 316.90,1340.00 C322.40,1330.49 328.13,1320.44 334.00,1313.00 C338.75,1306.98 344.51,1302.23 348.60,1298.00 C351.58,1294.92 353.98,1292.32 356.30,1290.00 C358.15,1288.15 359.14,1286.82 361.40,1285.10 C364.86,1282.47 370.52,1278.93 375.70,1276.60 C381.20,1274.13 387.58,1272.22 393.60,1270.90 C399.48,1269.61 405.78,1269.11 411.40,1268.70 C416.42,1268.34 420.94,1268.28 425.70,1268.40 C430.47,1268.52 434.03,1269.16 440.00,1269.40 C449.97,1269.80 465.16,1269.86 480.00,1269.80 C498.60,1269.73 529.43,1268.53 542.90,1268.70 C549.28,1268.78 551.04,1268.78 557.00,1269.30 C567.45,1270.21 587.14,1273.00 600.00,1275.00 C610.52,1276.63 618.07,1278.73 628.60,1280.10 C641.40,1281.76 658.56,1283.41 671.40,1283.60 C681.89,1283.75 690.55,1283.60 700.00,1282.10 C709.61,1280.57 719.69,1276.02 728.60,1274.40 C736.19,1273.02 744.20,1272.55 750.00,1272.30 C753.95,1272.13 756.61,1271.72 760.00,1272.40 C763.79,1273.16 768.18,1274.92 771.60,1277.10 C774.93,1279.22 777.67,1282.28 780.30,1285.20 C782.90,1288.09 785.14,1291.14 787.30,1294.50 C789.60,1298.08 791.64,1302.01 793.60,1306.10 C795.69,1310.47 797.55,1315.07 799.40,1320.00 C801.44,1325.44 803.27,1331.60 805.20,1337.40 C807.13,1343.20 809.29,1349.17 811.00,1354.80 C812.59,1360.02 813.58,1364.22 815.20,1370.00 C817.35,1377.70 820.28,1387.92 822.80,1396.90 C825.32,1405.89 828.06,1414.88 830.30,1423.90 C832.52,1432.84 834.22,1441.84 836.20,1450.80 C838.18,1459.77 840.46,1470.48 842.20,1477.70 C843.38,1482.60 844.28,1485.40 845.40,1490.00 C846.82,1495.83 848.47,1502.89 849.90,1509.90 C851.49,1517.70 852.98,1526.42 854.40,1534.70 C855.82,1542.98 857.16,1551.30 858.40,1559.60 C859.63,1567.87 860.58,1576.07 861.80,1584.40 C863.04,1592.87 864.53,1601.35 865.80,1610.00 C867.10,1618.87 868.31,1627.91 869.50,1637.00 C870.71,1646.24 871.99,1654.12 873.00,1665.00 C874.40,1680.07 874.96,1700.16 876.30,1719.10 C877.78,1740.06 880.31,1761.24 881.60,1785.30 C883.14,1814.03 883.24,1844.25 884.20,1880.00 C885.45,1926.67 887.00,1987.60 888.40,2041.40 C890.47,1980.93 892.93,1909.63 894.60,1860.00 C895.76,1825.45 895.93,1799.41 897.50,1772.10 C898.87,1748.21 900.89,1724.47 903.00,1705.00 C904.63,1689.93 906.02,1677.39 908.40,1665.00 C910.51,1654.03 913.40,1644.36 916.10,1634.30 C918.74,1624.50 921.66,1614.75 924.40,1605.40 C926.99,1596.55 929.55,1587.47 932.10,1579.60 C934.28,1572.87 936.67,1566.13 938.60,1561.00 C939.99,1557.32 940.49,1554.85 942.40,1551.60 C944.86,1547.40 948.66,1541.91 953.00,1538.40 C957.45,1534.80 964.25,1529.98 968.90,1530.40 C972.92,1530.76 976.57,1534.54 979.50,1538.40 C983.38,1543.51 985.45,1550.95 988.00,1560.00 C992.00,1574.21 995.37,1596.42 997.90,1616.30 C1000.72,1638.42 1001.91,1662.22 1003.50,1686.80 C1005.24,1713.68 1006.86,1742.67 1007.70,1771.30 C1008.56,1800.84 1008.23,1831.37 1008.50,1861.40 C1009.67,1817.27 1010.65,1771.35 1012.00,1729.00 C1013.24,1689.92 1015.28,1643.50 1016.20,1616.30 C1016.72,1600.86 1016.73,1593.68 1017.30,1580.00 C1018.05,1562.18 1019.15,1538.84 1020.60,1518.50 C1022.03,1498.44 1023.83,1478.09 1025.90,1458.80 C1027.86,1440.59 1030.17,1423.45 1032.60,1405.80 C1035.03,1388.12 1037.26,1368.82 1040.50,1352.80 C1043.24,1339.26 1045.71,1326.47 1050.00,1315.70 C1053.63,1306.60 1058.38,1298.32 1063.30,1291.80 C1067.37,1286.41 1071.80,1281.02 1076.50,1278.60 C1080.28,1276.65 1085.02,1276.53 1088.40,1276.60 C1090.93,1276.65 1092.87,1276.90 1095.00,1278.00 C1097.61,1279.35 1100.41,1282.20 1102.50,1284.90 C1104.67,1287.70 1106.15,1291.09 1107.70,1294.60 C1109.42,1298.49 1110.87,1302.86 1112.20,1307.30 C1113.62,1312.04 1114.73,1316.94 1115.90,1322.20 C1117.21,1328.04 1118.42,1334.30 1119.60,1340.80 C1120.89,1347.91 1122.09,1355.44 1123.30,1363.20 C1124.60,1371.56 1125.85,1380.60 1127.10,1389.30 C1128.35,1398.00 1129.57,1406.92 1130.80,1415.40 C1131.97,1423.47 1133.10,1429.10 1134.30,1439.00 C1136.31,1455.67 1138.66,1483.94 1140.60,1506.30 C1142.52,1528.48 1144.21,1549.49 1145.90,1572.60 C1147.75,1597.89 1149.59,1626.80 1151.20,1652.10 C1152.67,1675.20 1154.31,1698.86 1155.20,1718.40 C1155.91,1733.87 1155.95,1741.79 1156.50,1760.00 C1157.56,1794.80 1159.50,1861.33 1161.00,1912.00 C1162.60,1861.33 1163.71,1796.51 1165.80,1760.00 C1166.98,1739.39 1168.01,1727.61 1169.80,1711.70 C1171.56,1696.05 1172.98,1678.24 1176.40,1665.30 C1179.00,1655.48 1182.95,1640.49 1186.30,1640.20 C1188.71,1639.99 1191.65,1647.14 1193.60,1652.10 C1196.31,1659.00 1197.34,1668.21 1198.90,1678.60 C1201.08,1693.19 1203.09,1716.65 1204.20,1731.60 C1205.01,1742.52 1205.04,1747.10 1205.60,1760.00 C1206.80,1787.60 1208.87,1846.67 1210.50,1890.00 C1211.93,1846.67 1213.40,1794.13 1214.80,1760.00 C1215.71,1737.81 1216.44,1726.38 1217.50,1705.10 C1218.97,1675.53 1220.36,1631.88 1222.80,1599.10 C1224.92,1570.64 1227.42,1541.40 1230.70,1519.50 C1233.04,1503.92 1234.27,1489.70 1238.70,1479.80 C1241.80,1472.87 1246.38,1464.33 1250.60,1463.90 C1254.39,1463.51 1259.41,1470.19 1262.60,1474.50 C1265.97,1479.06 1267.55,1484.13 1270.00,1490.80 C1273.63,1500.67 1277.33,1515.76 1280.80,1528.50 C1284.34,1541.49 1287.79,1554.67 1291.00,1568.00 C1294.26,1581.56 1297.27,1596.30 1300.20,1609.20 C1302.80,1620.65 1305.28,1630.38 1307.70,1641.60 C1310.30,1653.65 1312.75,1666.56 1315.20,1679.20 C1317.69,1692.03 1319.98,1703.07 1322.50,1718.00 C1325.91,1738.21 1329.84,1765.89 1333.20,1789.60 C1336.50,1812.95 1339.80,1835.98 1342.50,1859.20 C1345.20,1882.38 1347.44,1906.33 1349.40,1928.80 C1351.23,1949.84 1352.31,1970.42 1354.00,1990.00 C1355.56,2008.10 1357.52,2024.80 1359.10,2042.20 C1360.68,2059.57 1362.00,2079.25 1363.50,2094.30 C1364.65,2105.83 1365.87,2116.93 1367.00,2124.80 C1367.72,2129.79 1368.40,2132.93 1369.10,2137.00 C1370.13,2125.67 1371.11,2114.39 1372.20,2103.00 C1373.31,2091.49 1374.61,2080.53 1375.70,2068.30 C1376.92,2054.62 1378.05,2038.49 1379.10,2024.80 C1380.04,2012.55 1380.84,2003.72 1381.70,1990.00 C1382.94,1970.17 1384.42,1937.43 1385.40,1917.20 C1386.10,1902.74 1386.53,1892.40 1387.10,1880.00" fill="none" stroke="#000000" stroke-width="2.6" stroke-linejoin="round" stroke-linecap="round"/>
<line x1="265.5" y1="1698.0" x2="419.0" y2="1698.0" stroke="#00ff00" stroke-width="2.8" stroke-linecap="round"/>
<text transform="translate(436.02,1720.40) scale(1.1629,1)" font-family='"Liberation Serif", serif' font-size="46.44" stroke="#000" stroke-width="0.15">Z</text>
<text transform="translate(467.52,1737.22) scale(1.1511,1)" font-family='"Liberation Serif", serif' font-size="27.66" stroke="#000" stroke-width="0.15">oo</text>
<text transform="translate(498.44,1723.50) scale(1.1223,1)" font-family='"Liberation Serif", serif' font-size="46.44" stroke="#000" stroke-width="0.15">=</text>
<text transform="translate(524.94,1720.40) scale(1.0910,1)" font-family='"Liberation Serif", serif' font-size="46.44" stroke="#000" stroke-width="0.15">85&#937;</text>
<text transform="translate(615.64,1721.74) scale(0.8737,1)" font-family='"Liberation Sans", sans-serif' font-size="49.54" font-weight="bold" stroke="#000" stroke-width="0.15">,</text>
<text transform="translate(629.30,1720.40) scale(1.1673,1)" font-family='"Liberation Serif", serif' font-size="46.44" stroke="#000" stroke-width="0.15">Z</text>
<text transform="translate(660.53,1737.22) scale(1.1269,1)" font-family='"Liberation Serif", serif' font-size="27.66" stroke="#000" stroke-width="0.15">o</text>
<text transform="translate(676.90,1736.40) scale(1.1035,1)" font-family='"Liberation Sans", sans-serif' font-size="26.11" stroke="#000" stroke-width="0.15">e</text>
<text transform="translate(691.30,1723.50) scale(1.1318,1)" font-family='"Liberation Serif", serif' font-size="46.44" stroke="#000" stroke-width="0.15">=</text>
<text transform="translate(721.09,1720.40) scale(1.0533,1)" font-family='"Liberation Serif", serif' font-size="46.44" stroke="#000" stroke-width="0.15">170&#937;</text>
<line x1="265.5" y1="1801.9" x2="419.0" y2="1801.9" stroke="#ff0000" stroke-width="2.8" stroke-linecap="round"/>
<text transform="translate(436.02,1824.30) scale(1.1629,1)" font-family='"Liberation Serif", serif' font-size="46.44" stroke="#000" stroke-width="0.15">Z</text>
<text transform="translate(467.52,1841.12) scale(1.1511,1)" font-family='"Liberation Serif", serif' font-size="27.66" stroke="#000" stroke-width="0.15">oo</text>
<text transform="translate(498.44,1827.40) scale(1.1223,1)" font-family='"Liberation Serif", serif' font-size="46.44" stroke="#000" stroke-width="0.15">=</text>
<text transform="translate(524.94,1824.30) scale(1.0910,1)" font-family='"Liberation Serif", serif' font-size="46.44" stroke="#000" stroke-width="0.15">71&#937;</text>
<text transform="translate(615.64,1825.64) scale(0.8737,1)" font-family='"Liberation Sans", sans-serif' font-size="49.54" font-weight="bold" stroke="#000" stroke-width="0.15">,</text>
<text transform="translate(629.30,1824.30) scale(1.1673,1)" font-family='"Liberation Serif", serif' font-size="46.44" stroke="#000" stroke-width="0.15">Z</text>
<text transform="translate(660.53,1841.12) scale(1.1269,1)" font-family='"Liberation Serif", serif' font-size="27.66" stroke="#000" stroke-width="0.15">o</text>
<text transform="translate(676.90,1840.30) scale(1.1035,1)" font-family='"Liberation Sans", sans-serif' font-size="26.11" stroke="#000" stroke-width="0.15">e</text>
<text transform="translate(691.30,1827.40) scale(1.1318,1)" font-family='"Liberation Serif", serif' font-size="46.44" stroke="#000" stroke-width="0.15">=</text>
<text transform="translate(721.09,1824.30) scale(1.0533,1)" font-family='"Liberation Serif", serif' font-size="46.44" stroke="#000" stroke-width="0.15">137&#937;</text>
<line x1="265.5" y1="1905.8" x2="419.0" y2="1905.8" stroke="#00ffff" stroke-width="2.8" stroke-linecap="round"/>
<text transform="translate(436.02,1928.20) scale(1.1629,1)" font-family='"Liberation Serif", serif' font-size="46.44" stroke="#000" stroke-width="0.15">Z</text>
<text transform="translate(467.52,1945.02) scale(1.1511,1)" font-family='"Liberation Serif", serif' font-size="27.66" stroke="#000" stroke-width="0.15">oo</text>
<text transform="translate(498.44,1931.30) scale(1.1223,1)" font-family='"Liberation Serif", serif' font-size="46.44" stroke="#000" stroke-width="0.15">=</text>
<text transform="translate(524.94,1928.20) scale(1.0910,1)" font-family='"Liberation Serif", serif' font-size="46.44" stroke="#000" stroke-width="0.15">63&#937;</text>
<text transform="translate(615.64,1929.54) scale(0.8737,1)" font-family='"Liberation Sans", sans-serif' font-size="49.54" font-weight="bold" stroke="#000" stroke-width="0.15">,</text>
<text transform="translate(629.30,1928.20) scale(1.1673,1)" font-family='"Liberation Serif", serif' font-size="46.44" stroke="#000" stroke-width="0.15">Z</text>
<text transform="translate(660.53,1945.02) scale(1.1269,1)" font-family='"Liberation Serif", serif' font-size="27.66" stroke="#000" stroke-width="0.15">o</text>
<text transform="translate(676.90,1944.20) scale(1.1035,1)" font-family='"Liberation Sans", sans-serif' font-size="26.11" stroke="#000" stroke-width="0.15">e</text>
<text transform="translate(691.30,1931.30) scale(1.1318,1)" font-family='"Liberation Serif", serif' font-size="46.44" stroke="#000" stroke-width="0.15">=</text>
<text transform="translate(721.09,1928.20) scale(1.0533,1)" font-family='"Liberation Serif", serif' font-size="46.44" stroke="#000" stroke-width="0.15">116&#937;</text>
<line x1="265.5" y1="2009.7" x2="419.0" y2="2009.7" stroke="#000000" stroke-width="2.8" stroke-linecap="round"/>
<text transform="translate(436.02,2032.10) scale(1.1629,1)" font-family='"Liberation Serif", serif' font-size="46.44" stroke="#000" stroke-width="0.15">Z</text>
<text transform="translate(467.52,2048.92) scale(1.1511,1)" font-family='"Liberation Serif", serif' font-size="27.66" stroke="#000" stroke-width="0.15">oo</text>
<text transform="translate(498.44,2035.20) scale(1.1223,1)" font-family='"Liberation Serif", serif' font-size="46.44" stroke="#000" stroke-width="0.15">=</text>
<text transform="translate(524.94,2032.10) scale(1.0910,1)" font-family='"Liberation Serif", serif' font-size="46.44" stroke="#000" stroke-width="0.15">57&#937;</text>
<text transform="translate(615.64,2033.44) scale(0.8737,1)" font-family='"Liberation Sans", sans-serif' font-size="49.54" font-weight="bold" stroke="#000" stroke-width="0.15">,</text>
<text transform="translate(629.30,2032.10) scale(1.1673,1)" font-family='"Liberation Serif", serif' font-size="46.44" stroke="#000" stroke-width="0.15">Z</text>
<text transform="translate(660.53,2048.92) scale(1.1269,1)" font-family='"Liberation Serif", serif' font-size="27.66" stroke="#000" stroke-width="0.15">o</text>
<text transform="translate(676.90,2048.10) scale(1.1035,1)" font-family='"Liberation Sans", sans-serif' font-size="26.11" stroke="#000" stroke-width="0.15">e</text>
<text transform="translate(691.30,2035.20) scale(1.1318,1)" font-family='"Liberation Serif", serif' font-size="46.44" stroke="#000" stroke-width="0.15">=</text>
<text transform="translate(721.09,2032.10) scale(1.0533,1)" font-family='"Liberation Serif", serif' font-size="46.44" stroke="#000" stroke-width="0.15">101&#937;</text>
<text transform="translate(601.16,2337.20) scale(1.0184,1)" font-family='"Liberation Sans", sans-serif' font-size="49.50">Frequency(GHz)</text>
<text transform="translate(40.0,1708.0) rotate(-90)" text-anchor="middle" font-family='"Liberation Sans", sans-serif' font-size="49.5">S21(dB)</text>
<text transform="translate(755.86,2401.30) scale(1.0164,1)" font-family='"Liberation Serif", serif' font-size="48.00">(b)</text>
</svg>
</body></html>
